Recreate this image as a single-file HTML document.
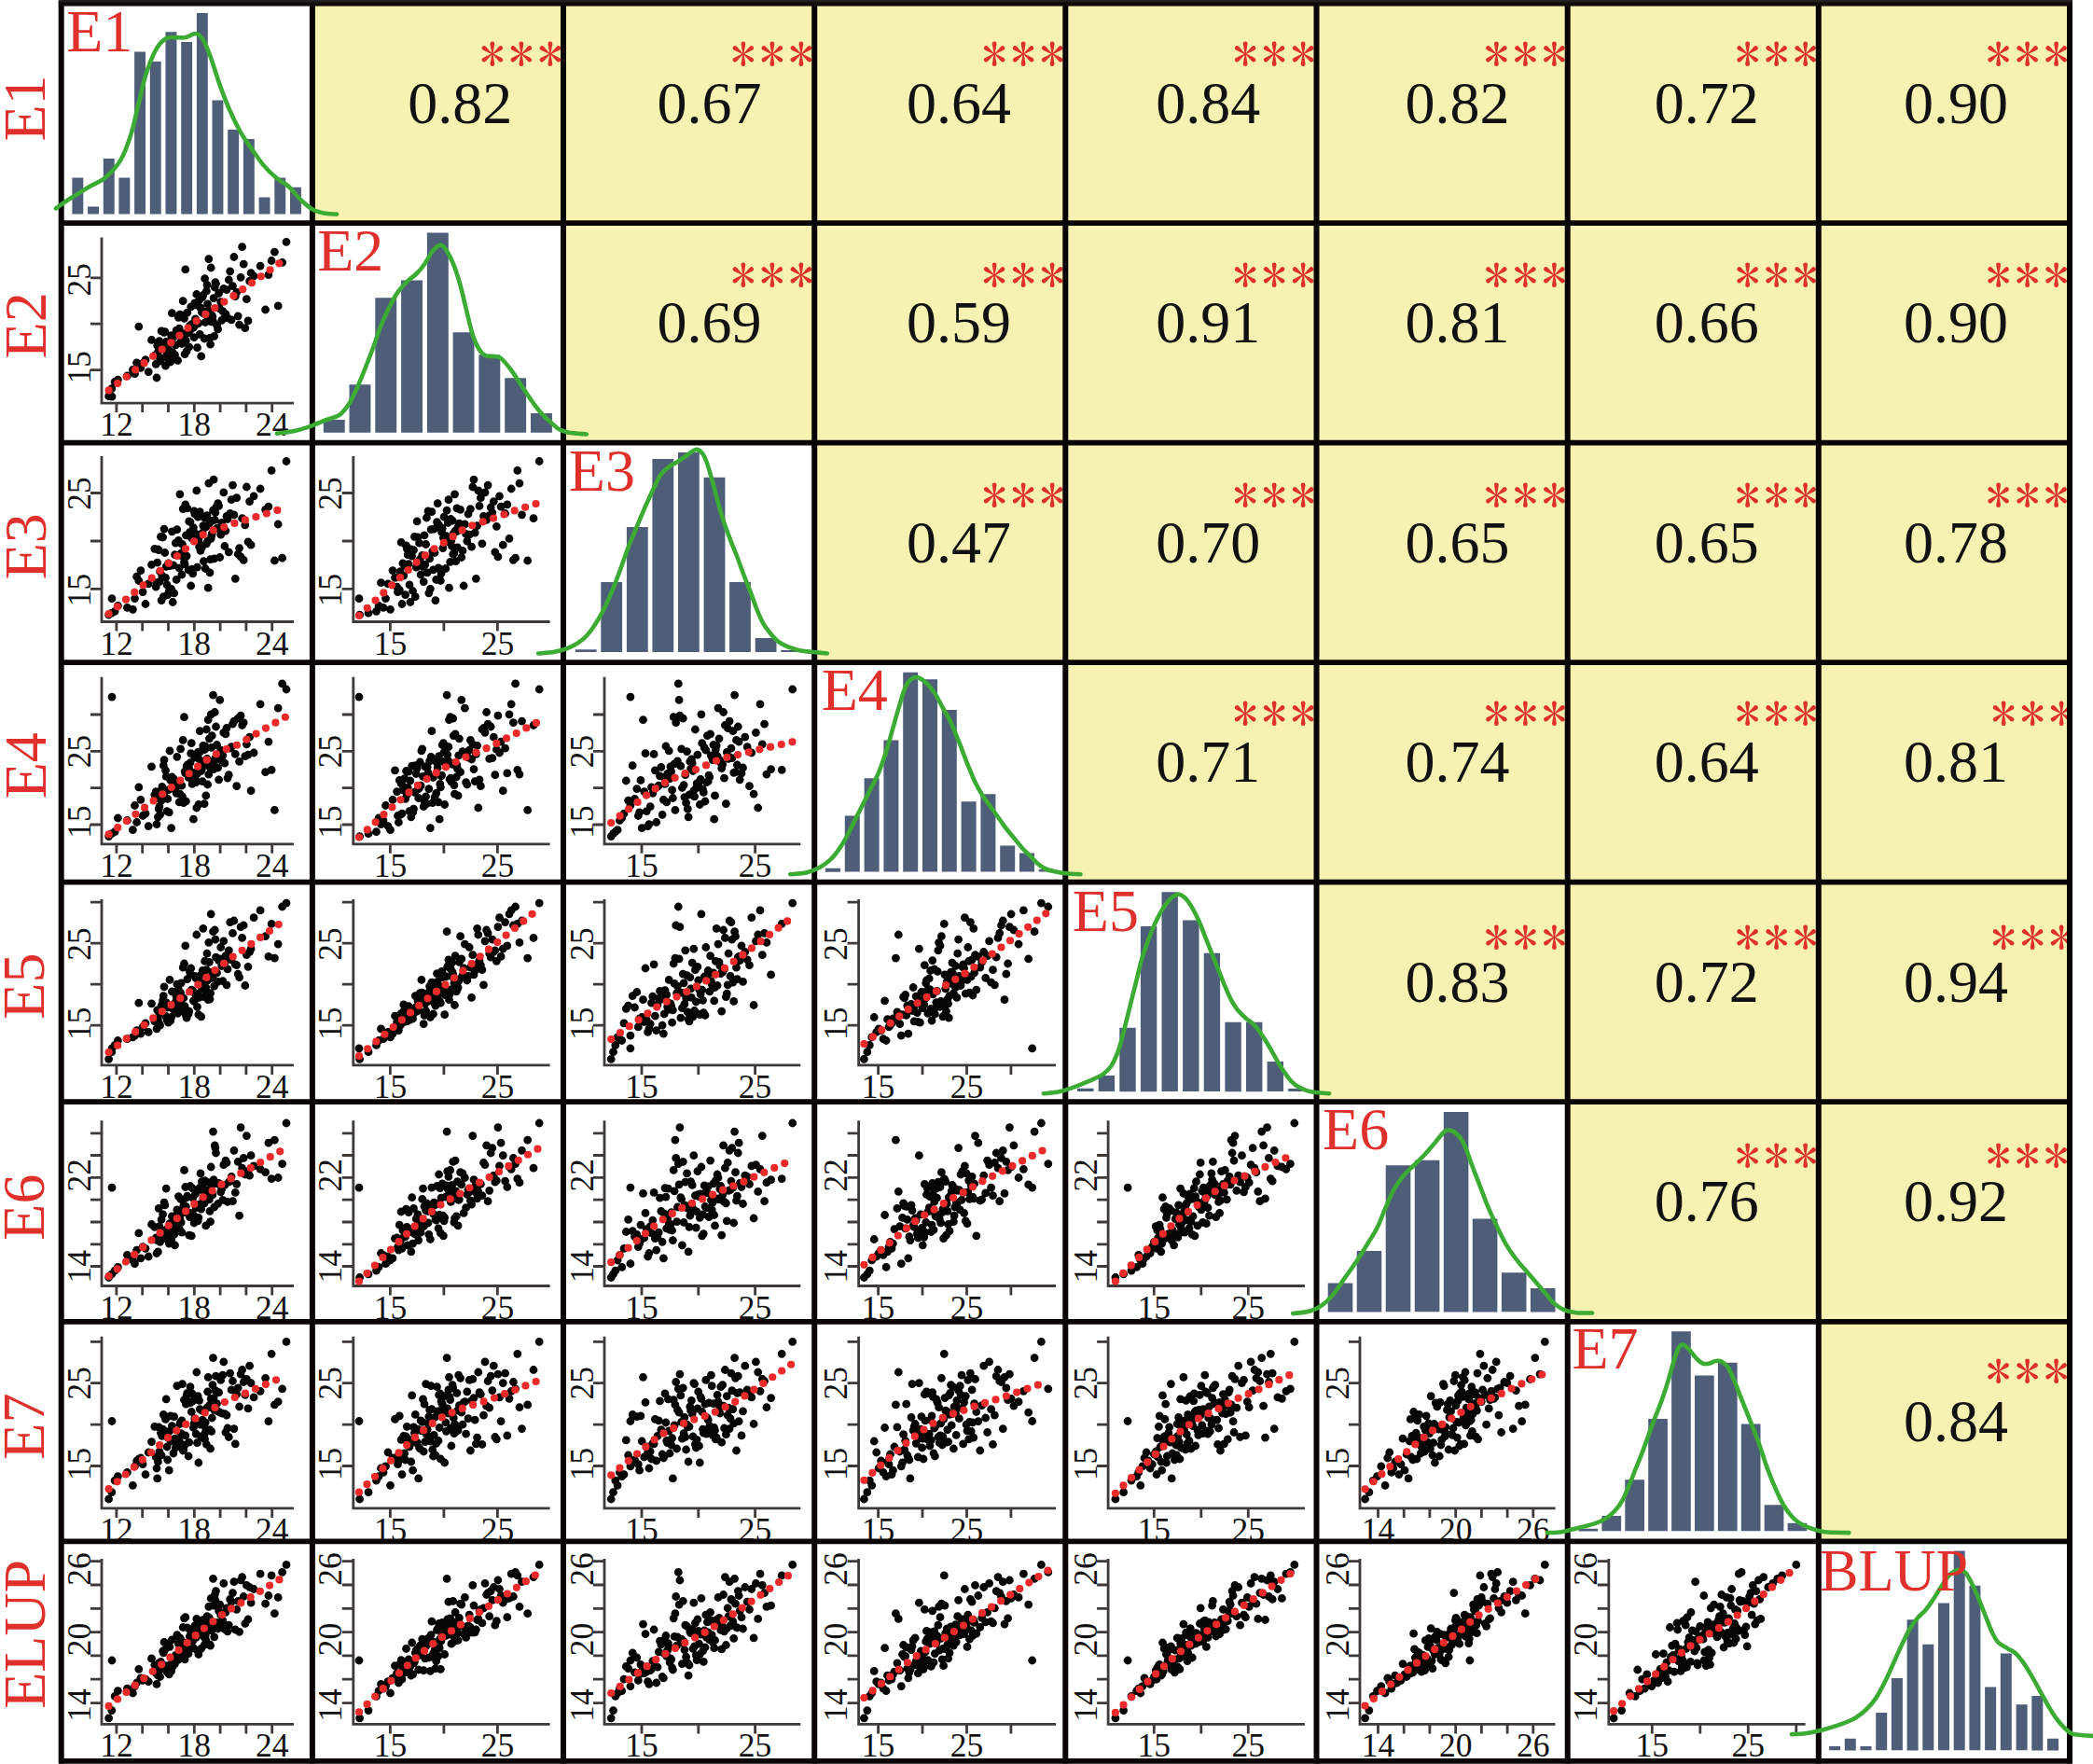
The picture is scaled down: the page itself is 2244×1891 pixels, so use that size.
<!DOCTYPE html>
<html><head><meta charset="utf-8"><title>Correlation matrix</title>
<style>html,body{margin:0;padding:0;background:#fff;overflow:hidden}svg{display:block}text{font-family:"Liberation Serif",serif}</style>
</head><body>
<div id="w">
<svg width="2244" height="1891" viewBox="0 0 2244 1891">
<rect x="0" y="0" width="2244" height="1891" fill="#fff"/>
<rect x="334.9" y="3.5" width="269.2" height="235.6" fill="#f7f1b2"/>
<rect x="604" y="3.5" width="269.2" height="235.6" fill="#f7f1b2"/>
<rect x="873.2" y="3.5" width="269.2" height="235.6" fill="#f7f1b2"/>
<rect x="1142.3" y="3.5" width="269.2" height="235.6" fill="#f7f1b2"/>
<rect x="1411.5" y="3.5" width="269.2" height="235.6" fill="#f7f1b2"/>
<rect x="1680.7" y="3.5" width="269.2" height="235.6" fill="#f7f1b2"/>
<rect x="1949.8" y="3.5" width="269.2" height="235.6" fill="#f7f1b2"/>
<rect x="604" y="239.1" width="269.2" height="235.6" fill="#f7f1b2"/>
<rect x="873.2" y="239.1" width="269.2" height="235.6" fill="#f7f1b2"/>
<rect x="1142.3" y="239.1" width="269.2" height="235.6" fill="#f7f1b2"/>
<rect x="1411.5" y="239.1" width="269.2" height="235.6" fill="#f7f1b2"/>
<rect x="1680.7" y="239.1" width="269.2" height="235.6" fill="#f7f1b2"/>
<rect x="1949.8" y="239.1" width="269.2" height="235.6" fill="#f7f1b2"/>
<rect x="873.2" y="474.6" width="269.2" height="235.6" fill="#f7f1b2"/>
<rect x="1142.3" y="474.6" width="269.2" height="235.6" fill="#f7f1b2"/>
<rect x="1411.5" y="474.6" width="269.2" height="235.6" fill="#f7f1b2"/>
<rect x="1680.7" y="474.6" width="269.2" height="235.6" fill="#f7f1b2"/>
<rect x="1949.8" y="474.6" width="269.2" height="235.6" fill="#f7f1b2"/>
<rect x="1142.3" y="710.2" width="269.2" height="235.5" fill="#f7f1b2"/>
<rect x="1411.5" y="710.2" width="269.2" height="235.5" fill="#f7f1b2"/>
<rect x="1680.7" y="710.2" width="269.2" height="235.5" fill="#f7f1b2"/>
<rect x="1949.8" y="710.2" width="269.2" height="235.5" fill="#f7f1b2"/>
<rect x="1411.5" y="945.7" width="269.2" height="235.5" fill="#f7f1b2"/>
<rect x="1680.7" y="945.7" width="269.2" height="235.5" fill="#f7f1b2"/>
<rect x="1949.8" y="945.7" width="269.2" height="235.5" fill="#f7f1b2"/>
<rect x="1680.7" y="1181.2" width="269.2" height="235.6" fill="#f7f1b2"/>
<rect x="1949.8" y="1181.2" width="269.2" height="235.6" fill="#f7f1b2"/>
<rect x="1949.8" y="1416.8" width="269.2" height="235.5" fill="#f7f1b2"/>
<text x="493.3" y="131.5" text-anchor="middle" font-size="64" fill="#111">0.82</text>
<text x="760.6" y="131.5" text-anchor="middle" font-size="64" fill="#111">0.67</text>
<text x="1027.9" y="131.5" text-anchor="middle" font-size="64" fill="#111">0.64</text>
<text x="1295.2" y="131.5" text-anchor="middle" font-size="64" fill="#111">0.84</text>
<text x="1562.5" y="131.5" text-anchor="middle" font-size="64" fill="#111">0.82</text>
<text x="1829.8" y="131.5" text-anchor="middle" font-size="64" fill="#111">0.72</text>
<text x="2097.1" y="131.5" text-anchor="middle" font-size="64" fill="#111">0.90</text>
<text x="760.6" y="367.1" text-anchor="middle" font-size="64" fill="#111">0.69</text>
<text x="1027.9" y="367.1" text-anchor="middle" font-size="64" fill="#111">0.59</text>
<text x="1295.2" y="367.1" text-anchor="middle" font-size="64" fill="#111">0.91</text>
<text x="1562.5" y="367.1" text-anchor="middle" font-size="64" fill="#111">0.81</text>
<text x="1829.8" y="367.1" text-anchor="middle" font-size="64" fill="#111">0.66</text>
<text x="2097.1" y="367.1" text-anchor="middle" font-size="64" fill="#111">0.90</text>
<text x="1027.9" y="602.6" text-anchor="middle" font-size="64" fill="#111">0.47</text>
<text x="1295.2" y="602.6" text-anchor="middle" font-size="64" fill="#111">0.70</text>
<text x="1562.5" y="602.6" text-anchor="middle" font-size="64" fill="#111">0.65</text>
<text x="1829.8" y="602.6" text-anchor="middle" font-size="64" fill="#111">0.65</text>
<text x="2097.1" y="602.6" text-anchor="middle" font-size="64" fill="#111">0.78</text>
<text x="1295.2" y="838.2" text-anchor="middle" font-size="64" fill="#111">0.71</text>
<text x="1562.5" y="838.2" text-anchor="middle" font-size="64" fill="#111">0.74</text>
<text x="1829.8" y="838.2" text-anchor="middle" font-size="64" fill="#111">0.64</text>
<text x="2097.1" y="838.2" text-anchor="middle" font-size="64" fill="#111">0.81</text>
<text x="1562.5" y="1073.7" text-anchor="middle" font-size="64" fill="#111">0.83</text>
<text x="1829.8" y="1073.7" text-anchor="middle" font-size="64" fill="#111">0.72</text>
<text x="2097.1" y="1073.7" text-anchor="middle" font-size="64" fill="#111">0.94</text>
<text x="1829.8" y="1309.2" text-anchor="middle" font-size="64" fill="#111">0.76</text>
<text x="2097.1" y="1309.2" text-anchor="middle" font-size="64" fill="#111">0.92</text>
<text x="2097.1" y="1544.8" text-anchor="middle" font-size="64" fill="#111">0.84</text>
<text x="514.4" y="77.8" font-size="53.6" letter-spacing="4.2" fill="#e0302c" style="font-family:IPAGothic,'Liberation Serif',serif">***</text>
<text x="783.5" y="77.8" font-size="53.6" letter-spacing="4.2" fill="#e0302c" style="font-family:IPAGothic,'Liberation Serif',serif">***</text>
<text x="1052.7" y="77.8" font-size="53.6" letter-spacing="4.2" fill="#e0302c" style="font-family:IPAGothic,'Liberation Serif',serif">***</text>
<text x="1321.8" y="77.8" font-size="53.6" letter-spacing="4.2" fill="#e0302c" style="font-family:IPAGothic,'Liberation Serif',serif">***</text>
<text x="1591" y="77.8" font-size="53.6" letter-spacing="4.2" fill="#e0302c" style="font-family:IPAGothic,'Liberation Serif',serif">***</text>
<text x="1860.2" y="77.8" font-size="53.6" letter-spacing="4.2" fill="#e0302c" style="font-family:IPAGothic,'Liberation Serif',serif">***</text>
<text x="2129.3" y="77.8" font-size="53.6" letter-spacing="4.2" fill="#e0302c" style="font-family:IPAGothic,'Liberation Serif',serif">***</text>
<text x="783.5" y="315.2" font-size="53.6" letter-spacing="4.2" fill="#e0302c" style="font-family:IPAGothic,'Liberation Serif',serif">***</text>
<text x="1052.7" y="315.2" font-size="53.6" letter-spacing="4.2" fill="#e0302c" style="font-family:IPAGothic,'Liberation Serif',serif">***</text>
<text x="1321.8" y="315.2" font-size="53.6" letter-spacing="4.2" fill="#e0302c" style="font-family:IPAGothic,'Liberation Serif',serif">***</text>
<text x="1591" y="315.2" font-size="53.6" letter-spacing="4.2" fill="#e0302c" style="font-family:IPAGothic,'Liberation Serif',serif">***</text>
<text x="1860.2" y="315.2" font-size="53.6" letter-spacing="4.2" fill="#e0302c" style="font-family:IPAGothic,'Liberation Serif',serif">***</text>
<text x="2129.3" y="315.2" font-size="53.6" letter-spacing="4.2" fill="#e0302c" style="font-family:IPAGothic,'Liberation Serif',serif">***</text>
<text x="1052.7" y="551.4" font-size="53.6" letter-spacing="4.2" fill="#e0302c" style="font-family:IPAGothic,'Liberation Serif',serif">***</text>
<text x="1321.8" y="551.4" font-size="53.6" letter-spacing="4.2" fill="#e0302c" style="font-family:IPAGothic,'Liberation Serif',serif">***</text>
<text x="1591" y="551.4" font-size="53.6" letter-spacing="4.2" fill="#e0302c" style="font-family:IPAGothic,'Liberation Serif',serif">***</text>
<text x="1860.2" y="551.4" font-size="53.6" letter-spacing="4.2" fill="#e0302c" style="font-family:IPAGothic,'Liberation Serif',serif">***</text>
<text x="2129.3" y="551.4" font-size="53.6" letter-spacing="4.2" fill="#e0302c" style="font-family:IPAGothic,'Liberation Serif',serif">***</text>
<text x="1321.8" y="785" font-size="53.6" letter-spacing="4.2" fill="#e0302c" style="font-family:IPAGothic,'Liberation Serif',serif">***</text>
<text x="1591" y="785" font-size="53.6" letter-spacing="4.2" fill="#e0302c" style="font-family:IPAGothic,'Liberation Serif',serif">***</text>
<text x="1860.2" y="785" font-size="53.6" letter-spacing="4.2" fill="#e0302c" style="font-family:IPAGothic,'Liberation Serif',serif">***</text>
<text x="2134.8" y="785" font-size="53.6" letter-spacing="4.2" fill="#e0302c" style="font-family:IPAGothic,'Liberation Serif',serif">***</text>
<text x="1591" y="1024.7" font-size="53.6" letter-spacing="4.2" fill="#e0302c" style="font-family:IPAGothic,'Liberation Serif',serif">***</text>
<text x="1860.2" y="1024.7" font-size="53.6" letter-spacing="4.2" fill="#e0302c" style="font-family:IPAGothic,'Liberation Serif',serif">***</text>
<text x="2134.8" y="1024.7" font-size="53.6" letter-spacing="4.2" fill="#e0302c" style="font-family:IPAGothic,'Liberation Serif',serif">***</text>
<text x="1860.2" y="1258.5" font-size="53.6" letter-spacing="4.2" fill="#e0302c" style="font-family:IPAGothic,'Liberation Serif',serif">***</text>
<text x="2129.3" y="1258.5" font-size="53.6" letter-spacing="4.2" fill="#e0302c" style="font-family:IPAGothic,'Liberation Serif',serif">***</text>
<text x="2129.3" y="1489.6" font-size="53.6" letter-spacing="4.2" fill="#e0302c" style="font-family:IPAGothic,'Liberation Serif',serif">***</text>
<path d="M77.4 190.5h11.9v39.1h-11.9zM94.1 221.5h11.9v8h-11.9zM110.8 169.9h11.9v59.7h-11.9zM127.4 190.5h11.9v39.1h-11.9zM144.1 55.4h11.9v174.2h-11.9zM160.8 66.1h11.9v163.5h-11.9zM177.5 34.2h11.9v195.3h-11.9zM194.2 44.9h11.9v184.6h-11.9zM210.9 13.9h11.9v215.7h-11.9zM227.5 107.6h11.9v122h-11.9zM244.2 139.1h11.9v90.4h-11.9zM260.9 149h11.9v80.5h-11.9zM277.6 211.4h11.9v18.2h-11.9zM294.3 190.5h11.9v39.1h-11.9zM311 200.7h11.9v28.9h-11.9z" fill="#4f5e78"/>
<path d="M346.8 450h22.9v13.8h-22.9zM374.5 412.2h22.9v51.6h-22.9zM402.3 319.3h22.9v144.5h-22.9zM430.1 300.4h22.9v163.4h-22.9zM457.9 249.6h22.9v214.1h-22.9zM485.6 356.3h22.9v107.5h-22.9zM513.4 380.3h22.9v83.4h-22.9zM541.2 405.3h22.9v58.5h-22.9zM569 443.1h22.9v20.6h-22.9z" fill="#4f5e78"/>
<path d="M616.8 696.2h22.8v2.9h-22.8zM644.3 623.9h22.8v75.2h-22.8zM671.9 565.1h22.8v134h-22.8zM699.4 492h22.8v207.1h-22.8zM727 485.1h22.8v214h-22.8zM754.6 511.8h22.8v187.3h-22.8zM782.1 623.9h22.8v75.2h-22.8zM809.7 684.1h22.8v15h-22.8zM837.3 697h22.8v2.1h-22.8z" fill="#4f5e78"/>
<path d="M885 930.7h16v4h-16zM905.8 874.4h16v60.2h-16zM926.6 834.3h16v100.3h-16zM947.4 793.6h16v141h-16zM968.2 720.8h16v213.8h-16zM989 728.2h16v206.4h-16zM1009.8 760.9h16v173.7h-16zM1030.6 859.3h16v75.3h-16zM1051.4 851.2h16v83.4h-16zM1072.2 906.6h16v28h-16zM1093 914.5h16v20.1h-16zM1113.8 932h16v2.6h-16z" fill="#4f5e78"/>
<path d="M1155 1166.7h17.4v3.4h-17.4zM1177.7 1152.9h17.4v17.2h-17.4zM1200.3 1101.7h17.4v68.5h-17.4zM1222.9 993h17.4v177.2h-17.4zM1245.5 956.3h17.4v213.8h-17.4zM1268.1 986.4h17.4v183.7h-17.4zM1290.7 1021.7h17.4v148.4h-17.4zM1313.4 1095.7h17.4v74.5h-17.4zM1336 1095.7h17.4v74.5h-17.4zM1358.6 1138.1h17.4v32h-17.4zM1381.2 1167h17.4v3.1h-17.4z" fill="#4f5e78"/>
<path d="M1423.7 1375.4h26.6v31h-26.6zM1454.7 1341h26.6v65.4h-26.6zM1485.7 1249.3h26.6v157h-26.6zM1516.8 1243.8h26.6v162.5h-26.6zM1547.8 1191.9h26.6v214.5h-26.6zM1578.8 1306.6h26.6v99.8h-26.6zM1609.9 1364.2h26.6v42.1h-26.6zM1640.9 1381.1h26.6v25.3h-26.6z" fill="#4f5e78"/>
<path d="M1692.5 1638.8h20.7v2.6h-20.7zM1717.4 1625h20.7v16.3h-20.7zM1742.3 1586.3h20.7v55h-20.7zM1767.2 1520.9h20.7v120.4h-20.7zM1792.1 1427.2h20.7v214.1h-20.7zM1817 1474.5h20.7v166.8h-20.7zM1841.9 1460.7h20.7v180.6h-20.7zM1866.8 1526.6h20.7v114.7h-20.7zM1891.7 1613.3h20.7v28h-20.7zM1916.6 1632.7h20.7v8.6h-20.7z" fill="#4f5e78"/>
<path d="M1961.1 1872h12v4.3h-12zM1977.8 1863.8h12v12.6h-12zM1994.5 1872h12v4.3h-12zM2011.2 1835.9h12v40.4h-12zM2027.9 1798.9h12v77.4h-12zM2044.6 1736.2h12v140.2h-12zM2061.3 1762.8h12v113.5h-12zM2078 1718.6h12v157.7h-12zM2094.7 1662.5h12v213.8h-12zM2111.4 1699.7h12v176.6h-12zM2128.1 1808.4h12v67.9h-12zM2144.8 1772.6h12v103.7h-12zM2161.6 1827.3h12v49h-12zM2178.3 1817.9h12v58.5h-12zM2195 1863.8h12v12.6h-12z" fill="#4f5e78"/>
<path d="M109 254.5V432.1H315" fill="none" stroke="#3e3a38" stroke-width="2.8"/>
<path d="M124.9 432.1v10M152.7 432.1v10M180.5 432.1v10M208.3 432.1v10M236.1 432.1v10M263.9 432.1v10M291.7 432.1v10M109 396.6h-12M109 347.2h-12M109 297.9h-12" stroke="#3e3a38" stroke-width="2.8"/>
<text x="124.9" y="467.1" text-anchor="middle" font-size="35.5" fill="#111">12</text>
<text x="208.3" y="467.1" text-anchor="middle" font-size="35.5" fill="#111">18</text>
<text x="291.7" y="467.1" text-anchor="middle" font-size="35.5" fill="#111">24</text>
<text transform="translate(96.5,393.8) rotate(-90)" text-anchor="middle" font-size="35.5" fill="#111">15</text>
<text transform="translate(96.5,299.8) rotate(-90)" text-anchor="middle" font-size="35.5" fill="#111">25</text>
<path d="M116.6 424.7h0M307 259.4h0M119.8 416.6h0M120 425.2h0M243 310.6h0M222.6 325.8h0M217.1 318.6h0M215.7 381.9h0M126.4 407.2h0M284.6 332h0M279.1 285.1h0M266 343.9h0M208.8 324.8h0M178.2 366.4h0M136.4 402.9h0M173.8 384.2h0M291.1 279.5h0M195.5 363.7h0M185.2 378h0M211.5 372.7h0M241.9 336.7h0M189.8 359h0M197.5 341.3h0M215 329.9h0M179 378.8h0M287.9 294.6h0M210.2 326.8h0M202.1 356.9h0M262.8 351.7h0M196.8 357.6h0M208.1 361.7h0M203.4 349.1h0M233.6 352.9h0M239.8 309.3h0M230.9 302.7h0M204.7 328.9h0M186.7 361h0M252.3 317.6h0M182.8 388h0M167.2 390.3h0M181.3 375.7h0M198.8 288.9h0M168 405h0M172.4 374.2h0M229.1 319.6h0M213.6 321.7h0M180.5 384.9h0M184.4 335.7h0M249.5 306.6h0M216.4 334.6h0M165.8 381.1h0M231.5 304h0M146.6 388.8h0M200.8 335.1h0M156 385.7h0M142.4 396.4h0M227.3 338.2h0M246.7 290.8h0M182 367.8h0M220.2 345.5h0M245.3 300h0M204 353.6h0M258.1 297.3h0M222 305.3h0M219.6 298.7h0M209.5 341.9h0M218.4 336.2h0M250.9 275.5h0M191.4 340.3h0M190.6 386.5h0M294.4 270.1h0M232.5 348.6h0M192.9 337.2h0M255.2 338.8h0M234.6 314.5h0M194.9 368.5h0M200.1 376.5h0M223.8 277.6h0M237.7 343.4h0M264.4 320.7h0M189.1 354.2h0M225 362.4h0M196.2 322.7h0M144.5 400.7h0M228.5 344.5h0M259.6 264.7h0M185.9 383.4h0M207.4 351.2h0M225.6 369.1h0M223.2 342.4h0M219.1 363h0M153.1 389.5h0M188.3 369.8h0M169.4 377.3h0M193.6 367.1h0M177.5 392.2h0M179.7 382.6h0M198.1 379.6h0M261.2 283.2h0M212.9 346.5h0M236.7 323.7h0M221.4 312h0M175.3 373.4h0M302.6 281.4h0M202.7 371.9h0M206 350.7h0M244 340.8h0M229.7 360.3h0M269.1 292.7h0M187.5 380.3h0M240.9 339.8h0M173.1 354.9h0M230.3 308h0M159.2 398.6h0M170.2 375h0M183.6 359.7h0M171.6 387.2h0M210.8 315.5h0M224.4 333h0M238.8 333.6h0M214.3 358.3h0M248.1 342.9h0M235.7 331h0M253.7 313.3h0M148.8 350.1h0M170.9 365.7h0M206.7 349.6h0M192.2 352.2h0M168.7 370.5h0M176.8 355.6h0M226.7 345h0M150.9 394.3h0M162.5 364.4h0M199.4 365.1h0M256.6 348.1h0M174.6 371.2h0M194.2 337.7h0M212.2 347h0M123.1 409.3h0M226.2 287h0M176 356.3h0M220.8 334.1h0M205.3 347.6h0M267.6 301.3h0M298.2 327.9h0M272.1 296h0M217.8 316.5h0M227.9 339.3h0" stroke="#050505" stroke-width="8.8" stroke-linecap="round"/>
<polyline points="116.6,418.4 142.4,398.6 156,388.1 168.7,378.2 173.1,375 177.5,371.7 182,368.3 186.7,364.6 192.2,359.9 196.2,356.4 200.1,352.9 204.7,348.9 208.8,345.5 212.9,342.4 217.1,339.4 220.8,336.7 225,333.7 228.5,331.3 232.5,328.7 238.8,324.6 245.3,320.5 253.7,314.8 262.8,308.4 279.1,296.8 307,276.9" fill="none" stroke="#ec2a2a" stroke-width="8.2" stroke-linecap="round" stroke-dasharray="0 12"/>
<path d="M109 489V666.5H315" fill="none" stroke="#3e3a38" stroke-width="2.8"/>
<path d="M124.9 666.5v10M152.7 666.5v10M180.5 666.5v10M208.3 666.5v10M236.1 666.5v10M263.9 666.5v10M291.7 666.5v10M109 631.4h-12M109 580h-12M109 528.5h-12" stroke="#3e3a38" stroke-width="2.8"/>
<text x="124.9" y="701.5" text-anchor="middle" font-size="35.5" fill="#111">12</text>
<text x="208.3" y="701.5" text-anchor="middle" font-size="35.5" fill="#111">18</text>
<text x="291.7" y="701.5" text-anchor="middle" font-size="35.5" fill="#111">24</text>
<text transform="translate(96.5,632.6) rotate(-90)" text-anchor="middle" font-size="35.5" fill="#111">15</text>
<text transform="translate(96.5,529.1) rotate(-90)" text-anchor="middle" font-size="35.5" fill="#111">25</text>
<path d="M116.6 659.2h0M307 494.5h0M119.8 657.2h0M120 641.7h0M243 553.4h0M222.6 580.1h0M217.1 571.2h0M215.7 584.9h0M126.4 649.4h0M284.6 546.3h0M279.1 524h0M266 580.8h0M208.8 551h0M178.2 607.4h0M136.4 651.4h0M173.8 617.1h0M291.1 504.3h0M195.5 583.5h0M185.2 645.5h0M211.5 608.1h0M241.9 569.1h0M189.8 567.7h0M197.5 602.4h0M215 590.4h0M179 626.9h0M287.9 543.2h0M210.2 572.5h0M202.1 610.9h0M262.8 562.8h0M196.8 591.1h0M208.1 547.9h0M203.4 570.5h0M233.6 539.6h0M239.8 527.9h0M230.9 549.5h0M204.7 628h0M186.7 635.8h0M252.3 620.3h0M182.8 632.4h0M167.2 629.1h0M181.3 633.5h0M198.8 540.9h0M168 624.7h0M172.4 575.3h0M229.1 514.1h0M213.6 586.2h0M180.5 603.9h0M184.4 569.8h0M249.5 520.1h0M216.4 586.9h0M165.8 588.3h0M231.5 544h0M146.6 618.2h0M200.8 544.8h0M156 647.5h0M142.4 653.3h0M227.3 571.9h0M246.7 550.3h0M182 606.7h0M220.2 609.5h0M245.3 591.8h0M204 559.6h0M258.1 596.8h0M222 552.6h0M219.6 564.3h0M209.5 578h0M218.4 601.7h0M250.9 551.8h0M191.4 579.4h0M190.6 581.4h0M294.4 601h0M232.5 566.4h0M192.9 529.8h0M255.2 594h0M234.6 542.4h0M194.9 616h0M200.1 596.1h0M223.8 518.1h0M237.7 560.4h0M264.4 522h0M189.1 621.4h0M225 613.8h0M196.2 545.6h0M144.5 641.6h0M228.5 547.1h0M259.6 555.7h0M185.9 606h0M207.4 565.7h0M225.6 599.6h0M223.2 630.2h0M219.1 555h0M153.1 634.6h0M188.3 582.1h0M169.4 589h0M193.6 595.4h0M177.5 619.3h0M179.7 637.7h0M198.1 604.6h0M261.2 600.3h0M212.9 578.7h0M236.7 573.2h0M221.4 582.8h0M175.3 639.7h0M302.6 598.2h0M202.7 558.9h0M206 610.2h0M244 556.5h0M229.7 598.9h0M269.1 584.2h0M187.5 594.7h0M240.9 585.5h0M173.1 643.6h0M230.3 557.3h0M159.2 625.8h0M170.2 589.7h0M183.6 631.3h0M171.6 612.7h0M210.8 525.9h0M224.4 561.2h0M238.8 568.4h0M214.3 548.7h0M248.1 535.7h0M235.7 597.5h0M253.7 533.7h0M148.8 622.5h0M170.9 623.6h0M206.7 614.9h0M192.2 608.8h0M168.7 603.2h0M176.8 592.5h0M226.7 574.6h0M150.9 611.6h0M162.5 605.3h0M199.4 573.9h0M256.6 587.6h0M174.6 576h0M194.2 593.2h0M212.2 554.2h0M123.1 655.3h0M226.2 577.3h0M176 567.1h0M220.8 565h0M205.3 576.6h0M267.6 537.6h0M298.2 562h0M272.1 531.8h0M217.8 563.6h0M227.9 558.1h0" stroke="#050505" stroke-width="8.8" stroke-linecap="round"/>
<polyline points="116.6,658 142.4,636.5 156,625.3 168.7,614.7 173.1,610.7 177.5,606.7 182,602.7 186.7,598.7 192.2,594.1 196.2,590.8 200.1,587.4 204.7,583.2 208.8,579.8 212.9,576.6 217.1,573.8 220.8,571.6 225,569.6 228.5,568.4 232.5,567.5 238.8,565.6 245.3,563.1 253.7,560.1 262.8,557.5 279.1,552.6 307,543.9" fill="none" stroke="#ec2a2a" stroke-width="8.2" stroke-linecap="round" stroke-dasharray="0 12"/>
<path d="M378.8 489V666.5H589.6" fill="none" stroke="#3e3a38" stroke-width="2.8"/>
<path d="M418.4 666.5v10M475.9 666.5v10M533.4 666.5v10M378.8 631.4h-12M378.8 580h-12M378.8 528.5h-12" stroke="#3e3a38" stroke-width="2.8"/>
<text x="418.4" y="701.5" text-anchor="middle" font-size="35.5" fill="#111">15</text>
<text x="533.4" y="701.5" text-anchor="middle" font-size="35.5" fill="#111">25</text>
<text transform="translate(366.3,632.6) rotate(-90)" text-anchor="middle" font-size="35.5" fill="#111">15</text>
<text transform="translate(366.3,529.1) rotate(-90)" text-anchor="middle" font-size="35.5" fill="#111">25</text>
<path d="M385.6 659.2h0M578.2 494.5h0M395 657.2h0M385 641.7h0M518.5 553.4h0M500.8 580.1h0M509.2 571.2h0M435.5 584.9h0M406 649.4h0M493.6 546.3h0M548.2 524h0M479.7 580.8h0M502 551h0M453.5 607.4h0M411 651.4h0M432.8 617.1h0M554.8 504.3h0M456.6 583.5h0M439.9 645.5h0M446.2 608.1h0M488.1 569.1h0M462.1 567.7h0M482.7 602.4h0M496 590.4h0M439 626.9h0M537.1 543.2h0M499.6 572.5h0M464.5 610.9h0M470.6 562.8h0M463.7 591.1h0M459 547.9h0M473.6 570.5h0M469.2 539.6h0M520 527.9h0M527.8 549.5h0M497.2 628h0M459.8 635.8h0M510.4 620.3h0M428.3 632.4h0M425.6 629.1h0M442.6 633.5h0M543.8 540.9h0M408.5 624.7h0M444.4 575.3h0M508 514.1h0M505.6 586.2h0M431.9 603.9h0M489.3 569.8h0M523.1 520.1h0M490.5 586.9h0M436.3 588.3h0M526.2 544h0M427.4 618.2h0M489.9 544.8h0M431 647.5h0M418.5 653.3h0M486.3 571.9h0M541.6 550.3h0M451.9 606.7h0M477.9 609.5h0M530.8 591.8h0M468.5 559.6h0M533.9 596.8h0M524.7 552.6h0M532.4 564.3h0M482.1 578h0M488.7 601.7h0M559.5 551.8h0M483.9 579.4h0M430.1 581.4h0M565.7 601h0M474.2 566.4h0M487.5 529.8h0M485.7 594h0M514 542.4h0M451.1 616h0M441.7 596.1h0M557 518.1h0M480.3 560.4h0M506.8 522h0M467.7 621.4h0M458.2 613.8h0M504.4 545.6h0M413.5 641.6h0M479.1 547.1h0M572 555.7h0M433.7 606h0M471.2 565.7h0M450.3 599.6h0M481.5 630.2h0M457.4 555h0M426.5 634.6h0M449.5 582.1h0M440.8 589h0M452.7 595.4h0M423.5 619.3h0M434.6 637.7h0M438.1 604.6h0M550.4 600.3h0M476.7 578.7h0M503.2 573.2h0M516.9 582.8h0M445.3 639.7h0M552.6 598.2h0M447.1 558.9h0M471.8 610.2h0M483.3 556.5h0M460.6 598.9h0M539.3 584.2h0M437.2 594.7h0M484.5 585.5h0M466.9 643.6h0M521.6 557.3h0M416 625.8h0M443.5 589.7h0M461.4 631.3h0M429.2 612.7h0M512.8 525.9h0M492.4 561.2h0M491.7 568.4h0M462.9 548.7h0M480.9 535.7h0M494.8 597.5h0M515.4 533.7h0M472.4 622.5h0M454.2 623.6h0M473 614.9h0M470 608.8h0M448.7 603.2h0M466.1 592.5h0M478.5 574.6h0M421 611.6h0M455.8 605.3h0M455 573.9h0M474.8 587.6h0M447.9 576h0M486.9 593.2h0M476.1 554.2h0M403.5 655.3h0M546 577.3h0M465.3 567.1h0M491.1 565h0M475.4 576.6h0M529.3 537.6h0M498.4 562h0M535.5 531.8h0M511.6 563.6h0M485.1 558.1h0" stroke="#050505" stroke-width="8.8" stroke-linecap="round"/>
<polyline points="385,660 411,635.7 425.6,622.3 431,617.4 436.3,612.4 441.7,607.3 447.1,602.4 451.9,598.4 457.4,594.1 462.1,590.6 466.9,587.4 471.2,584.6 474.8,582.4 479.1,579.7 482.7,577.2 486.3,574.7 490.5,571.6 496,568 503.2,564.4 510.4,561.8 518.5,559.1 527.8,556.1 537.1,552.7 550.4,547.9 578.2,538.9" fill="none" stroke="#ec2a2a" stroke-width="8.2" stroke-linecap="round" stroke-dasharray="0 12"/>
<path d="M109 725.8V904.8H315" fill="none" stroke="#3e3a38" stroke-width="2.8"/>
<path d="M124.9 904.8v10M152.7 904.8v10M180.5 904.8v10M208.3 904.8v10M236.1 904.8v10M263.9 904.8v10M291.7 904.8v10M109 884h-12M109 844.7h-12M109 805.3h-12M109 766h-12" stroke="#3e3a38" stroke-width="2.8"/>
<text x="124.9" y="939.8" text-anchor="middle" font-size="35.5" fill="#111">12</text>
<text x="208.3" y="939.8" text-anchor="middle" font-size="35.5" fill="#111">18</text>
<text x="291.7" y="939.8" text-anchor="middle" font-size="35.5" fill="#111">24</text>
<text transform="translate(96.5,880.9) rotate(-90)" text-anchor="middle" font-size="35.5" fill="#111">15</text>
<text transform="translate(96.5,805.4) rotate(-90)" text-anchor="middle" font-size="35.5" fill="#111">25</text>
<path d="M116.6 896.6h0M307 739h0M119.8 893.7h0M120 747.1h0M243 780.5h0M222.6 841h0M217.1 837.6h0M215.7 826.5h0M126.4 877h0M284.6 827.7h0M279.1 754.8h0M266 809.1h0M208.8 812h0M178.2 832.4h0M136.4 879.5h0M173.8 843.3h0M291.1 825.3h0M195.5 853.8h0M185.2 837h0M211.5 829.5h0M241.9 786.9h0M189.8 811.3h0M197.5 768.7h0M215 805.6h0M179 869.6h0M287.9 795.1h0M210.2 838.7h0M202.1 833.5h0M262.8 810.6h0M196.8 860.7h0M208.1 828.3h0M203.4 831.2h0M233.6 823h0M239.8 785.3h0M230.9 812.7h0M204.7 807.7h0M186.7 845.6h0M252.3 808.4h0M182.8 836.4h0M167.2 848.6h0M181.3 870.9h0M198.8 828.9h0M168 883.6h0M172.4 849.4h0M229.1 824.7h0M213.6 814h0M180.5 846.8h0M184.4 833h0M249.5 776.1h0M216.4 824.2h0M165.8 852h0M231.5 779h0M146.6 881.5h0M200.8 820h0M156 872.1h0M142.4 889.7h0M227.3 788.6h0M246.7 802.1h0M182 804.9h0M220.2 800h0M245.3 830.7h0M204 817.6h0M258.1 767.2h0M222 813.4h0M219.6 803.5h0M209.5 835.3h0M218.4 818.8h0M250.9 773.1h0M191.4 838.1h0M190.6 839.9h0M294.4 868.4h0M232.5 798.5h0M192.9 851.2h0M255.2 770.2h0M234.6 835.8h0M194.9 842.2h0M200.1 821.2h0M223.8 830.1h0M237.7 815.2h0M264.4 797.8h0M189.1 850.3h0M225 822.4h0M196.2 793.4h0M144.5 863.5h0M228.5 745.1h0M259.6 777.5h0M185.9 834.7h0M207.4 878.2h0M225.6 817h0M223.2 771.7h0M219.1 861.6h0M153.1 874.5h0M188.3 845h0M169.4 875.8h0M193.6 802.8h0M177.5 825.9h0M179.7 856.4h0M198.1 827.1h0M261.2 774.6h0M212.9 862.5h0M236.7 804.2h0M221.4 782h0M175.3 820.6h0M302.6 732.9h0M202.7 823.6h0M206 840.4h0M244 834.1h0M229.7 815.8h0M269.1 847.7h0M187.5 844.5h0M240.9 818.2h0M173.1 858.1h0M230.3 763.5h0M159.2 885.6h0M170.2 867.2h0M183.6 887.6h0M171.6 873.3h0M210.8 866h0M224.4 791.8h0M238.8 809.8h0M214.3 783.7h0M248.1 800.7h0M235.7 750.4h0M253.7 842.7h0M148.8 843.9h0M170.9 864.7h0M206.7 831.8h0M192.2 859.9h0M168.7 855.5h0M176.8 854.7h0M226.7 801.4h0M150.9 857.3h0M162.5 821.8h0M199.4 859h0M256.6 816.4h0M174.6 846.2h0M194.2 841.6h0M212.2 806.3h0M123.1 891.7h0M226.2 765.8h0M176 814.6h0M220.8 852.9h0M205.3 796.7h0M267.6 790.2h0M298.2 759.1h0M272.1 807h0M217.8 799.3h0M227.9 819.4h0" stroke="#050505" stroke-width="8.8" stroke-linecap="round"/>
<polyline points="116.6,894.4 142.4,875.1 156,864.9 168.7,855.3 173.1,852.1 177.5,848.8 182,845.4 186.7,841.8 192.2,837.5 196.2,834.4 200.1,831.3 204.7,827.7 208.8,824.4 212.9,821 217.1,817.9 220.8,815.3 225,812.5 228.5,810.2 232.5,807.9 238.8,804.8 245.3,802 253.7,798.9 262.8,793.7 279.1,783.9 307,768.1" fill="none" stroke="#ec2a2a" stroke-width="8.2" stroke-linecap="round" stroke-dasharray="0 12"/>
<path d="M378.8 725.8V904.8H589.6" fill="none" stroke="#3e3a38" stroke-width="2.8"/>
<path d="M418.4 904.8v10M475.9 904.8v10M533.4 904.8v10M378.8 884h-12M378.8 844.7h-12M378.8 805.3h-12M378.8 766h-12" stroke="#3e3a38" stroke-width="2.8"/>
<text x="418.4" y="939.8" text-anchor="middle" font-size="35.5" fill="#111">15</text>
<text x="533.4" y="939.8" text-anchor="middle" font-size="35.5" fill="#111">25</text>
<text transform="translate(366.3,880.9) rotate(-90)" text-anchor="middle" font-size="35.5" fill="#111">15</text>
<text transform="translate(366.3,805.4) rotate(-90)" text-anchor="middle" font-size="35.5" fill="#111">25</text>
<path d="M385.6 896.6h0M578.2 739h0M395 893.7h0M385 747.1h0M518.5 780.5h0M500.8 841h0M509.2 837.6h0M435.5 826.5h0M406 877h0M493.6 827.7h0M548.2 754.8h0M479.7 809.1h0M502 812h0M453.5 832.4h0M411 879.5h0M432.8 843.3h0M554.8 825.3h0M456.6 853.8h0M439.9 837h0M446.2 829.5h0M488.1 786.9h0M462.1 811.3h0M482.7 768.7h0M496 805.6h0M439 869.6h0M537.1 795.1h0M499.6 838.7h0M464.5 833.5h0M470.6 810.6h0M463.7 860.7h0M459 828.3h0M473.6 831.2h0M469.2 823h0M520 785.3h0M527.8 812.7h0M497.2 807.7h0M459.8 845.6h0M510.4 808.4h0M428.3 836.4h0M425.6 848.6h0M442.6 870.9h0M543.8 828.9h0M408.5 883.6h0M444.4 849.4h0M508 824.7h0M505.6 814h0M431.9 846.8h0M489.3 833h0M523.1 776.1h0M490.5 824.2h0M436.3 852h0M526.2 779h0M427.4 881.5h0M489.9 820h0M431 872.1h0M418.5 889.7h0M486.3 788.6h0M541.6 802.1h0M451.9 804.9h0M477.9 800h0M530.8 830.7h0M468.5 817.6h0M533.9 767.2h0M524.7 813.4h0M532.4 803.5h0M482.1 835.3h0M488.7 818.8h0M559.5 773.1h0M483.9 838.1h0M430.1 839.9h0M565.7 868.4h0M474.2 798.5h0M487.5 851.2h0M485.7 770.2h0M514 835.8h0M451.1 842.2h0M441.7 821.2h0M557 830.1h0M480.3 815.2h0M506.8 797.8h0M467.7 850.3h0M458.2 822.4h0M504.4 793.4h0M413.5 863.5h0M479.1 745.1h0M572 777.5h0M433.7 834.7h0M471.2 878.2h0M450.3 817h0M481.5 771.7h0M457.4 861.6h0M426.5 874.5h0M449.5 845h0M440.8 875.8h0M452.7 802.8h0M423.5 825.9h0M434.6 856.4h0M438.1 827.1h0M550.4 774.6h0M476.7 862.5h0M503.2 804.2h0M516.9 782h0M445.3 820.6h0M552.6 732.9h0M447.1 823.6h0M471.8 840.4h0M483.3 834.1h0M460.6 815.8h0M539.3 847.7h0M437.2 844.5h0M484.5 818.2h0M466.9 858.1h0M521.6 763.5h0M416 885.6h0M443.5 867.2h0M461.4 887.6h0M429.2 873.3h0M512.8 866h0M492.4 791.8h0M491.7 809.8h0M462.9 783.7h0M480.9 800.7h0M494.8 750.4h0M515.4 842.7h0M472.4 843.9h0M454.2 864.7h0M473 831.8h0M470 859.9h0M448.7 855.5h0M466.1 854.7h0M478.5 801.4h0M421 857.3h0M455.8 821.8h0M455 859h0M474.8 816.4h0M447.9 846.2h0M486.9 841.6h0M476.1 806.3h0M403.5 891.7h0M546 765.8h0M465.3 814.6h0M491.1 852.9h0M475.4 796.7h0M529.3 790.2h0M498.4 759.1h0M535.5 807h0M511.6 799.3h0M485.1 819.4h0" stroke="#050505" stroke-width="8.8" stroke-linecap="round"/>
<polyline points="385,897.6 411,873.6 425.6,860.7 431,856 436.3,851.3 441.7,846.8 447.1,842.5 451.9,839 457.4,835.2 462.1,832 466.9,828.9 471.2,826.1 474.8,824 479.1,821.7 482.7,819.9 486.3,818.1 490.5,815.9 496,813.1 503.2,809.9 510.4,806.9 518.5,803.6 527.8,799.3 537.1,794.5 550.4,787.7 578.2,773.2" fill="none" stroke="#ec2a2a" stroke-width="8.2" stroke-linecap="round" stroke-dasharray="0 12"/>
<path d="M648 725.8V904.8H858.3" fill="none" stroke="#3e3a38" stroke-width="2.8"/>
<path d="M688 904.8v10M748.8 904.8v10M809.6 904.8v10M648 884h-12M648 844.7h-12M648 805.3h-12M648 766h-12" stroke="#3e3a38" stroke-width="2.8"/>
<text x="688" y="939.8" text-anchor="middle" font-size="35.5" fill="#111">15</text>
<text x="809.6" y="939.8" text-anchor="middle" font-size="35.5" fill="#111">25</text>
<text transform="translate(635.5,880.9) rotate(-90)" text-anchor="middle" font-size="35.5" fill="#111">15</text>
<text transform="translate(635.5,805.4) rotate(-90)" text-anchor="middle" font-size="35.5" fill="#111">25</text>
<path d="M655.2 896.6h0M849.7 739h0M657.5 893.7h0M675.9 747.1h0M780.2 780.5h0M748.7 841h0M759.2 837.6h0M743 826.5h0M666.7 877h0M788.5 827.7h0M815 754.8h0M747.9 809.1h0M783 812h0M716.4 832.4h0M664.4 879.5h0M705 843.3h0M838.2 825.3h0M744.6 853.8h0M671.3 837h0M715.6 829.5h0M761.6 786.9h0M763.2 811.3h0M722.2 768.7h0M736.5 805.6h0M693.3 869.6h0M792.2 795.1h0M757.6 838.7h0M712.2 833.5h0M769.1 810.6h0M735.6 860.7h0M786.7 828.3h0M760 831.2h0M796.5 823h0M810.4 785.3h0M784.8 812.7h0M692 807.7h0M682.8 845.6h0M701.1 808.4h0M686.9 836.4h0M690.7 848.6h0M685.6 870.9h0M795 828.9h0M695.9 883.6h0M754.3 849.4h0M826.6 824.7h0M741.4 814h0M720.6 846.8h0M760.8 833h0M819.6 776.1h0M740.6 824.2h0M739 852h0M791.3 779h0M703.7 881.5h0M790.4 820h0M669 872.1h0M662.1 889.7h0M758.4 788.6h0M783.9 802.1h0M717.2 804.9h0M713.9 800h0M734.8 830.7h0M772.8 817.6h0M728.9 767.2h0M781.1 813.4h0M767.3 803.5h0M751.1 835.3h0M723.1 818.8h0M782.1 773.1h0M749.5 838.1h0M747.1 839.9h0M723.9 868.4h0M764.9 798.5h0M808.1 851.2h0M732.3 770.2h0M793.2 835.8h0M706.3 842.2h0M729.8 821.2h0M821.9 830.1h0M771.9 815.2h0M817.3 797.8h0M699.8 850.3h0M708.8 822.4h0M789.5 793.4h0M675.9 863.5h0M787.6 745.1h0M777.4 777.5h0M718.1 834.7h0M765.7 878.2h0M725.6 817h0M689.5 771.7h0M778.4 861.6h0M684.3 874.5h0M746.3 845h0M738.1 875.8h0M730.6 802.8h0M702.4 825.9h0M680.5 856.4h0M719.7 827.1h0M724.7 774.6h0M750.3 862.5h0M756.8 804.2h0M745.4 782h0M678.2 820.6h0M727.3 732.9h0M773.7 823.6h0M713 840.4h0M776.5 834.1h0M726.4 815.8h0M743.8 847.7h0M731.4 844.5h0M742.2 818.2h0M673.6 858.1h0M775.6 763.5h0M694.6 885.6h0M737.3 867.2h0M688.2 887.6h0M710.1 873.3h0M812.7 866h0M771 791.8h0M762.4 809.8h0M785.8 783.7h0M801.2 800.7h0M728.1 750.4h0M803.5 842.7h0M698.5 843.9h0M697.2 864.7h0M707.5 831.8h0M714.7 859.9h0M721.4 855.5h0M733.9 854.7h0M755.2 801.4h0M711.4 857.3h0M718.9 821.8h0M756 859h0M739.8 816.4h0M753.5 846.2h0M733.1 841.6h0M779.3 806.3h0M659.8 891.7h0M751.9 765.8h0M764.1 814.6h0M766.5 852.9h0M752.7 796.7h0M798.8 790.2h0M770 759.1h0M805.8 807h0M768.2 799.3h0M774.7 819.4h0" stroke="#050505" stroke-width="8.8" stroke-linecap="round"/>
<polyline points="655.2,882.1 669,871.2 680.5,862.3 689.5,855.4 697.2,849.4 705,843.7 712.2,839.4 717.2,837 723.1,834.1 728.1,831.8 733.1,829.6 738.1,827.7 743,826 747.9,824.3 752.7,822.5 757.6,820.2 763.2,817.6 768.2,815.5 773.7,813.6 779.3,811.9 784.8,810.4 790.4,809.2 798.8,807.3 812.7,803.7 849.7,795.3" fill="none" stroke="#ec2a2a" stroke-width="8.2" stroke-linecap="round" stroke-dasharray="0 12"/>
<path d="M109 963.9V1141.9H315" fill="none" stroke="#3e3a38" stroke-width="2.8"/>
<path d="M124.9 1141.9v10M152.7 1141.9v10M180.5 1141.9v10M208.3 1141.9v10M236.1 1141.9v10M263.9 1141.9v10M291.7 1141.9v10M109 1099.2h-12M109 1055.2h-12M109 1011.2h-12M109 967.2h-12" stroke="#3e3a38" stroke-width="2.8"/>
<text x="124.9" y="1176.9" text-anchor="middle" font-size="35.5" fill="#111">12</text>
<text x="208.3" y="1176.9" text-anchor="middle" font-size="35.5" fill="#111">18</text>
<text x="291.7" y="1176.9" text-anchor="middle" font-size="35.5" fill="#111">24</text>
<text transform="translate(96.5,1097.2) rotate(-90)" text-anchor="middle" font-size="35.5" fill="#111">15</text>
<text transform="translate(96.5,1012.1) rotate(-90)" text-anchor="middle" font-size="35.5" fill="#111">25</text>
<path d="M116.6 1135.3h0M307 968.1h0M119.8 1127.7h0M120 1123.8h0M243 1055.8h0M222.6 1051h0M217.1 1040.5h0M215.7 1089.8h0M126.4 1115.5h0M284.6 1003.7h0M279.1 975.9h0M266 1036.3h0M208.8 1046.3h0M178.2 1074.6h0M136.4 1113.7h0M173.8 1076.9h0M291.1 990.3h0M195.5 1083.5h0M185.2 1081.4h0M211.5 1079.3h0M241.9 1024.6h0M189.8 1055.1h0M197.5 1033h0M215 1045.6h0M179 1093.4h0M287.9 1025.4h0M210.2 1049h0M202.1 1087h0M262.8 1056.5h0M196.8 1069.9h0M208.1 1073.4h0M203.4 1041.4h0M233.6 1052.4h0M239.8 1008.8h0M230.9 1007.1h0M204.7 1038h0M186.7 1063.5h0M252.3 1033.8h0M182.8 1094.1h0M167.2 1095.5h0M181.3 1092h0M198.8 1013.8h0M168 1102.8h0M172.4 1085.6h0M229.1 1044.9h0M213.6 1069.3h0M180.5 1096.2h0M184.4 1062.9h0M249.5 1000.4h0M216.4 1059.9h0M165.8 1094.8h0M231.5 1026.2h0M146.6 1104.6h0M200.8 1049.7h0M156 1096.9h0M142.4 1111.9h0M227.3 1048.3h0M246.7 988.6h0M182 1050.4h0M220.2 1067h0M245.3 1018.8h0M204 1043.6h0M258.1 993.7h0M222 1022.2h0M219.6 1030.4h0M209.5 1065.8h0M218.4 1054.4h0M250.9 987h0M191.4 1060.6h0M190.6 1086.3h0M294.4 1027.1h0M232.5 1042.9h0M192.9 1077.5h0M255.2 1044.2h0M234.6 1029.6h0M194.9 1070.5h0M200.1 1091.2h0M223.8 1010.4h0M237.7 1035.5h0M264.4 1023.7h0M189.1 1068.2h0M225 1071.1h0M196.2 1037.2h0M144.5 1110.1h0M228.5 998.7h0M259.6 1005.4h0M185.9 1082.1h0M207.4 1072.8h0M225.6 1064.7h0M223.2 1071.7h0M219.1 1068.7h0M153.1 1100.9h0M188.3 1074h0M169.4 1092.7h0M193.6 1064.1h0M177.5 1089.1h0M179.7 1080h0M198.1 1078.7h0M261.2 992h0M212.9 1087.7h0M236.7 1015.5h0M221.4 1039.7h0M175.3 1067.6h0M302.6 972h0M202.7 1084.2h0M206 1061.7h0M244 1038.9h0M229.7 1057.2h0M269.1 1017.1h0M187.5 1080.7h0M240.9 1032.1h0M173.1 1078.1h0M230.3 997h0M159.2 1106.4h0M170.2 1084.9h0M183.6 1090.5h0M171.6 1099.1h0M210.8 1002h0M224.4 1031.3h0M238.8 1051.7h0M214.3 1053.1h0M248.1 1028.8h0M235.7 1027.9h0M253.7 1034.6h0M148.8 1075.2h0M170.9 1097.6h0M206.7 1062.3h0M192.2 1066.4h0M168.7 1082.8h0M176.8 1076.3h0M226.7 1047h0M150.9 1108.2h0M162.5 1075.8h0M199.4 1088.4h0M256.6 1047.6h0M174.6 1072.3h0M194.2 1053.8h0M212.2 1065.2h0M123.1 1120.4h0M226.2 979.8h0M176 1057.8h0M220.8 1058.5h0M205.3 1061.2h0M267.6 1020.5h0M298.2 1012.1h0M272.1 983.7h0M217.8 995.3h0M227.9 1042.2h0" stroke="#050505" stroke-width="8.8" stroke-linecap="round"/>
<polyline points="116.6,1128 142.4,1108.2 156,1097.8 168.7,1088 173.1,1084.8 177.5,1081.5 182,1078.2 186.7,1074.8 192.2,1070.9 196.2,1068.1 200.1,1065.4 204.7,1062 208.8,1058.7 212.9,1055.2 217.1,1051.6 220.8,1048.3 225,1044.7 228.5,1041.7 232.5,1038.6 238.8,1033.7 245.3,1028.6 253.7,1022.9 262.8,1016.6 279.1,1004.9 307,985.3" fill="none" stroke="#ec2a2a" stroke-width="8.2" stroke-linecap="round" stroke-dasharray="0 12"/>
<path d="M378.8 963.9V1141.9H589.6" fill="none" stroke="#3e3a38" stroke-width="2.8"/>
<path d="M418.4 1141.9v10M475.9 1141.9v10M533.4 1141.9v10M378.8 1099.2h-12M378.8 1055.2h-12M378.8 1011.2h-12M378.8 967.2h-12" stroke="#3e3a38" stroke-width="2.8"/>
<text x="418.4" y="1176.9" text-anchor="middle" font-size="35.5" fill="#111">15</text>
<text x="533.4" y="1176.9" text-anchor="middle" font-size="35.5" fill="#111">25</text>
<text transform="translate(366.3,1097.2) rotate(-90)" text-anchor="middle" font-size="35.5" fill="#111">15</text>
<text transform="translate(366.3,1012.1) rotate(-90)" text-anchor="middle" font-size="35.5" fill="#111">25</text>
<path d="M385.6 1135.3h0M578.2 968.1h0M395 1127.7h0M385 1123.8h0M518.5 1055.8h0M500.8 1051h0M509.2 1040.5h0M435.5 1089.8h0M406 1115.5h0M493.6 1003.7h0M548.2 975.9h0M479.7 1036.3h0M502 1046.3h0M453.5 1074.6h0M411 1113.7h0M432.8 1076.9h0M554.8 990.3h0M456.6 1083.5h0M439.9 1081.4h0M446.2 1079.3h0M488.1 1024.6h0M462.1 1055.1h0M482.7 1033h0M496 1045.6h0M439 1093.4h0M537.1 1025.4h0M499.6 1049h0M464.5 1087h0M470.6 1056.5h0M463.7 1069.9h0M459 1073.4h0M473.6 1041.4h0M469.2 1052.4h0M520 1008.8h0M527.8 1007.1h0M497.2 1038h0M459.8 1063.5h0M510.4 1033.8h0M428.3 1094.1h0M425.6 1095.5h0M442.6 1092h0M543.8 1013.8h0M408.5 1102.8h0M444.4 1085.6h0M508 1044.9h0M505.6 1069.3h0M431.9 1096.2h0M489.3 1062.9h0M523.1 1000.4h0M490.5 1059.9h0M436.3 1094.8h0M526.2 1026.2h0M427.4 1104.6h0M489.9 1049.7h0M431 1096.9h0M418.5 1111.9h0M486.3 1048.3h0M541.6 988.6h0M451.9 1050.4h0M477.9 1067h0M530.8 1018.8h0M468.5 1043.6h0M533.9 993.7h0M524.7 1022.2h0M532.4 1030.4h0M482.1 1065.8h0M488.7 1054.4h0M559.5 987h0M483.9 1060.6h0M430.1 1086.3h0M565.7 1027.1h0M474.2 1042.9h0M487.5 1077.5h0M485.7 1044.2h0M514 1029.6h0M451.1 1070.5h0M441.7 1091.2h0M557 1010.4h0M480.3 1035.5h0M506.8 1023.7h0M467.7 1068.2h0M458.2 1071.1h0M504.4 1037.2h0M413.5 1110.1h0M479.1 998.7h0M572 1005.4h0M433.7 1082.1h0M471.2 1072.8h0M450.3 1064.7h0M481.5 1071.7h0M457.4 1068.7h0M426.5 1100.9h0M449.5 1074h0M440.8 1092.7h0M452.7 1064.1h0M423.5 1089.1h0M434.6 1080h0M438.1 1078.7h0M550.4 992h0M476.7 1087.7h0M503.2 1015.5h0M516.9 1039.7h0M445.3 1067.6h0M552.6 972h0M447.1 1084.2h0M471.8 1061.7h0M483.3 1038.9h0M460.6 1057.2h0M539.3 1017.1h0M437.2 1080.7h0M484.5 1032.1h0M466.9 1078.1h0M521.6 997h0M416 1106.4h0M443.5 1084.9h0M461.4 1090.5h0M429.2 1099.1h0M512.8 1002h0M492.4 1031.3h0M491.7 1051.7h0M462.9 1053.1h0M480.9 1028.8h0M494.8 1027.9h0M515.4 1034.6h0M472.4 1075.2h0M454.2 1097.6h0M473 1062.3h0M470 1066.4h0M448.7 1082.8h0M466.1 1076.3h0M478.5 1047h0M421 1108.2h0M455.8 1075.8h0M455 1088.4h0M474.8 1047.6h0M447.9 1072.3h0M486.9 1053.8h0M476.1 1065.2h0M403.5 1120.4h0M546 979.8h0M465.3 1057.8h0M491.1 1058.5h0M475.4 1061.2h0M529.3 1020.5h0M498.4 1012.1h0M535.5 983.7h0M511.6 995.3h0M485.1 1042.2h0" stroke="#050505" stroke-width="8.8" stroke-linecap="round"/>
<polyline points="385,1132 411,1110 425.6,1097.7 431,1093.2 436.3,1088.6 441.7,1084.1 447.1,1079.7 451.9,1075.7 457.4,1071.2 462.1,1067.5 466.9,1063.8 471.2,1060.4 474.8,1057.6 479.1,1054.4 482.7,1051.6 486.3,1048.8 490.5,1045.4 496,1041 503.2,1035.2 510.4,1029 518.5,1022.1 527.8,1014.5 537.1,1007 550.4,996.3 578.2,973.5" fill="none" stroke="#ec2a2a" stroke-width="8.2" stroke-linecap="round" stroke-dasharray="0 12"/>
<path d="M648 963.9V1141.9H858.3" fill="none" stroke="#3e3a38" stroke-width="2.8"/>
<path d="M688 1141.9v10M748.8 1141.9v10M809.6 1141.9v10M648 1099.2h-12M648 1055.2h-12M648 1011.2h-12M648 967.2h-12" stroke="#3e3a38" stroke-width="2.8"/>
<text x="688" y="1176.9" text-anchor="middle" font-size="35.5" fill="#111">15</text>
<text x="809.6" y="1176.9" text-anchor="middle" font-size="35.5" fill="#111">25</text>
<text transform="translate(635.5,1097.2) rotate(-90)" text-anchor="middle" font-size="35.5" fill="#111">15</text>
<text transform="translate(635.5,1012.1) rotate(-90)" text-anchor="middle" font-size="35.5" fill="#111">25</text>
<path d="M655.2 1135.3h0M849.7 968.1h0M657.5 1127.7h0M675.9 1123.8h0M780.2 1055.8h0M748.7 1051h0M759.2 1040.5h0M743 1089.8h0M666.7 1115.5h0M788.5 1003.7h0M815 975.9h0M747.9 1036.3h0M783 1046.3h0M716.4 1074.6h0M664.4 1113.7h0M705 1076.9h0M838.2 990.3h0M744.6 1083.5h0M671.3 1081.4h0M715.6 1079.3h0M761.6 1024.6h0M763.2 1055.1h0M722.2 1033h0M736.5 1045.6h0M693.3 1093.4h0M792.2 1025.4h0M757.6 1049h0M712.2 1087h0M769.1 1056.5h0M735.6 1069.9h0M786.7 1073.4h0M760 1041.4h0M796.5 1052.4h0M810.4 1008.8h0M784.8 1007.1h0M692 1038h0M682.8 1063.5h0M701.1 1033.8h0M686.9 1094.1h0M690.7 1095.5h0M685.6 1092h0M795 1013.8h0M695.9 1102.8h0M754.3 1085.6h0M826.6 1044.9h0M741.4 1069.3h0M720.6 1096.2h0M760.8 1062.9h0M819.6 1000.4h0M740.6 1059.9h0M739 1094.8h0M791.3 1026.2h0M703.7 1104.6h0M790.4 1049.7h0M669 1096.9h0M662.1 1111.9h0M758.4 1048.3h0M783.9 988.6h0M717.2 1050.4h0M713.9 1067h0M734.8 1018.8h0M772.8 1043.6h0M728.9 993.7h0M781.1 1022.2h0M767.3 1030.4h0M751.1 1065.8h0M723.1 1054.4h0M782.1 987h0M749.5 1060.6h0M747.1 1086.3h0M723.9 1027.1h0M764.9 1042.9h0M808.1 1077.5h0M732.3 1044.2h0M793.2 1029.6h0M706.3 1070.5h0M729.8 1091.2h0M821.9 1010.4h0M771.9 1035.5h0M817.3 1023.7h0M699.8 1068.2h0M708.8 1071.1h0M789.5 1037.2h0M675.9 1110.1h0M787.6 998.7h0M777.4 1005.4h0M718.1 1082.1h0M765.7 1072.8h0M725.6 1064.7h0M689.5 1071.7h0M778.4 1068.7h0M684.3 1100.9h0M746.3 1074h0M738.1 1092.7h0M730.6 1064.1h0M702.4 1089.1h0M680.5 1080h0M719.7 1078.7h0M724.7 992h0M750.3 1087.7h0M756.8 1015.5h0M745.4 1039.7h0M678.2 1067.6h0M727.3 972h0M773.7 1084.2h0M713 1061.7h0M776.5 1038.9h0M726.4 1057.2h0M743.8 1017.1h0M731.4 1080.7h0M742.2 1032.1h0M673.6 1078.1h0M775.6 997h0M694.6 1106.4h0M737.3 1084.9h0M688.2 1090.5h0M710.1 1099.1h0M812.7 1002h0M771 1031.3h0M762.4 1051.7h0M785.8 1053.1h0M801.2 1028.8h0M728.1 1027.9h0M803.5 1034.6h0M698.5 1075.2h0M697.2 1097.6h0M707.5 1062.3h0M714.7 1066.4h0M721.4 1082.8h0M733.9 1076.3h0M755.2 1047h0M711.4 1108.2h0M718.9 1075.8h0M756 1088.4h0M739.8 1047.6h0M753.5 1072.3h0M733.1 1053.8h0M779.3 1065.2h0M659.8 1120.4h0M751.9 979.8h0M764.1 1057.8h0M766.5 1058.5h0M752.7 1061.2h0M798.8 1020.5h0M770 1012.1h0M805.8 983.7h0M768.2 995.3h0M774.7 1042.2h0" stroke="#050505" stroke-width="8.8" stroke-linecap="round"/>
<polyline points="655.2,1114.1 669,1104.2 680.5,1096.1 689.5,1089.9 697.2,1084.4 705,1079.1 712.2,1075 717.2,1072.6 723.1,1069.8 728.1,1067.3 733.1,1064.7 738.1,1062.1 743,1059.5 747.9,1056.9 752.7,1054.3 757.6,1051.2 763.2,1047.5 768.2,1044.2 773.7,1040.2 779.3,1036.1 784.8,1032.1 790.4,1028.2 798.8,1021.9 812.7,1011.3 849.7,983.2" fill="none" stroke="#ec2a2a" stroke-width="8.2" stroke-linecap="round" stroke-dasharray="0 12"/>
<path d="M920.6 963.9V1141.9H1132.1" fill="none" stroke="#3e3a38" stroke-width="2.8"/>
<path d="M941.6 1141.9v10M989 1141.9v10M1036.5 1141.9v10M1083.9 1141.9v10M920.6 1099.2h-12M920.6 1055.2h-12M920.6 1011.2h-12M920.6 967.2h-12" stroke="#3e3a38" stroke-width="2.8"/>
<text x="941.6" y="1176.9" text-anchor="middle" font-size="35.5" fill="#111">15</text>
<text x="1036.5" y="1176.9" text-anchor="middle" font-size="35.5" fill="#111">25</text>
<text transform="translate(908.1,1097.2) rotate(-90)" text-anchor="middle" font-size="35.5" fill="#111">15</text>
<text transform="translate(908.1,1012.1) rotate(-90)" text-anchor="middle" font-size="35.5" fill="#111">25</text>
<path d="M926.4 1135.3h0M1116.4 968.1h0M929.8 1127.7h0M1106.7 1123.8h0M1066.4 1055.8h0M993.4 1051h0M997.6 1040.5h0M1010.9 1089.8h0M950.1 1115.5h0M1009.4 1003.7h0M1097.4 975.9h0M1031.8 1036.3h0M1028.4 1046.3h0M1003.8 1074.6h0M947 1113.7h0M990.7 1076.9h0M1012.3 990.3h0M978 1083.5h0M998.3 1081.4h0M1007.3 1079.3h0M1058.6 1024.6h0M1029.3 1055.1h0M1080.6 1033h0M1036.1 1045.6h0M958.9 1093.4h0M1048.8 1025.4h0M996.2 1049h0M1002.4 1087h0M1030.1 1056.5h0M969.6 1069.9h0M1008.7 1073.4h0M1005.2 1041.4h0M1015.2 1052.4h0M1060.6 1008.8h0M1027.6 1007.1h0M1033.6 1038h0M987.9 1063.5h0M1032.7 1033.8h0M999 1094.1h0M984.3 1095.5h0M957.4 1092h0M1008 1013.8h0M942.1 1102.8h0M983.3 1085.6h0M1013 1044.9h0M1025.9 1069.3h0M986.4 1096.2h0M1003.1 1062.9h0M1071.7 1000.4h0M1013.7 1059.9h0M980.1 1094.8h0M1068.2 1026.2h0M944.6 1104.6h0M1018.8 1049.7h0M956 1096.9h0M934.7 1111.9h0M1056.7 1048.3h0M1040.4 988.6h0M1037 1050.4h0M1042.9 1067h0M1005.9 1018.8h0M1021.6 1043.6h0M1082.4 993.7h0M1026.7 1022.2h0M1038.7 1030.4h0M1000.3 1065.8h0M1020.2 1054.4h0M1075.3 987h0M996.9 1060.6h0M994.8 1086.3h0M960.4 1027.1h0M1044.6 1042.9h0M981.2 1077.5h0M1078.8 1044.2h0M999.7 1029.6h0M992 1070.5h0M1017.3 1091.2h0M1006.6 1010.4h0M1024.5 1035.5h0M1045.5 1023.7h0M982.2 1068.2h0M1015.9 1071.1h0M1050.8 1037.2h0M966.3 1110.1h0M1109.1 998.7h0M1070 1005.4h0M1001 1082.1h0M948.6 1072.8h0M1022.4 1064.7h0M1077 1071.7h0M968.6 1068.7h0M953 1100.9h0M988.6 1074h0M951.5 1092.7h0M1039.5 1064.1h0M1011.6 1089.1h0M974.9 1080h0M1010.2 1078.7h0M1073.5 992h0M967.5 1087.7h0M1037.8 1015.5h0M1064.5 1039.7h0M1018 1067.6h0M1123.8 972h0M1014.5 1084.2h0M994.1 1061.7h0M1001.7 1038.9h0M1023.8 1057.2h0M985.4 1017.1h0M989.3 1080.7h0M1020.9 1032.1h0M972.8 1078.1h0M1086.9 997h0M939.7 1106.4h0M961.9 1084.9h0M937.2 1090.5h0M954.5 1099.1h0M963.3 1002h0M1052.7 1031.3h0M1031 1051.7h0M1062.6 1053.1h0M1042.1 1028.8h0M1102.7 1027.9h0M991.3 1034.6h0M990 1075.2h0M964.8 1097.6h0M1004.5 1062.3h0M970.7 1066.4h0M975.9 1082.8h0M977 1076.3h0M1041.2 1047h0M973.8 1108.2h0M1016.6 1075.8h0M971.7 1088.4h0M1023.1 1047.6h0M987.2 1072.3h0M992.7 1053.8h0M1035.3 1065.2h0M932.3 1120.4h0M1084.1 979.8h0M1025.2 1057.8h0M979.1 1058.5h0M1046.8 1061.2h0M1054.7 1020.5h0M1092.1 1012.1h0M1034.4 983.7h0M1043.8 995.3h0M1019.5 1042.2h0" stroke="#050505" stroke-width="8.8" stroke-linecap="round"/>
<polyline points="926.4,1119 942.1,1106.7 953,1098.2 961.9,1091.2 969.6,1085.2 975.9,1080.5 982.2,1076.2 987.9,1072.5 992.7,1069.5 997.6,1066.6 1001.7,1064 1005.9,1061.4 1010.2,1058.7 1014.5,1055.9 1018.8,1053.2 1023.1,1050.6 1028.4,1047.4 1033.6,1044.3 1038.7,1040.9 1043.8,1037.2 1052.7,1030.6 1064.5,1022.1 1075.3,1014.1 1086.9,1005.4 1123.8,977.5" fill="none" stroke="#ec2a2a" stroke-width="8.2" stroke-linecap="round" stroke-dasharray="0 12"/>
<path d="M109 1201.2V1378.5H315" fill="none" stroke="#3e3a38" stroke-width="2.8"/>
<path d="M124.9 1378.5v10M152.7 1378.5v10M180.5 1378.5v10M208.3 1378.5v10M236.1 1378.5v10M263.9 1378.5v10M291.7 1378.5v10M109 1357.5h-12M109 1333.8h-12M109 1310h-12M109 1286.2h-12M109 1262.3h-12M109 1238.5h-12M109 1214.8h-12" stroke="#3e3a38" stroke-width="2.8"/>
<text x="124.9" y="1413.5" text-anchor="middle" font-size="35.5" fill="#111">12</text>
<text x="208.3" y="1413.5" text-anchor="middle" font-size="35.5" fill="#111">18</text>
<text x="291.7" y="1413.5" text-anchor="middle" font-size="35.5" fill="#111">24</text>
<text transform="translate(96.5,1357.7) rotate(-90)" text-anchor="middle" font-size="35.5" fill="#111">14</text>
<text transform="translate(96.5,1259.7) rotate(-90)" text-anchor="middle" font-size="35.5" fill="#111">22</text>
<path d="M116.6 1369.5h0M307 1204h0M119.8 1365.8h0M120 1273.1h0M243 1246.4h0M222.6 1280.5h0M217.1 1272h0M215.7 1296.1h0M126.4 1358.4h0M284.6 1256.7h0M279.1 1253.3h0M266 1255.6h0M208.8 1275.7h0M178.2 1274.1h0M136.4 1345.3h0M173.8 1326.3h0M291.1 1263.6h0M195.5 1297.6h0M185.2 1320.5h0M211.5 1306.7h0M241.9 1244.1h0M189.8 1296.8h0M197.5 1254.4h0M215 1257.9h0M179 1317.6h0M287.9 1225.2h0M210.2 1294.7h0M202.1 1301.1h0M262.8 1259h0M196.8 1292.6h0M208.1 1311h0M203.4 1304.6h0M233.6 1290.5h0M239.8 1248.7h0M230.9 1230.6h0M204.7 1300.4h0M186.7 1323.4h0M252.3 1278.4h0M182.8 1313.2h0M167.2 1327h0M181.3 1333.1h0M198.8 1272.5h0M168 1343.5h0M172.4 1322.6h0M229.1 1264.7h0M213.6 1291.2h0M180.5 1319h0M184.4 1303.9h0M249.5 1287.7h0M216.4 1266.7h0M165.8 1315.4h0M231.5 1236h0M146.6 1340.1h0M200.8 1282.1h0M156 1338.3h0M142.4 1351h0M227.3 1278.9h0M246.7 1266.1h0M182 1311.7h0M220.2 1283.2h0M245.3 1267.2h0M204 1271.5h0M258.1 1208.6h0M222 1276.3h0M219.6 1265.6h0M209.5 1280h0M218.4 1276.8h0M250.9 1233.3h0M191.4 1282.6h0M190.6 1299h0M294.4 1222.1h0M232.5 1268.8h0M192.9 1306h0M255.2 1245.3h0M234.6 1268.3h0M194.9 1321.2h0M200.1 1283.7h0M223.8 1267.7h0M237.7 1274.7h0M264.4 1217.6h0M189.1 1308.1h0M225 1298.3h0M196.2 1287h0M144.5 1354.7h0M228.5 1213.1h0M259.6 1252.2h0M185.9 1318.3h0M207.4 1302.5h0M225.6 1309.6h0M223.2 1279.4h0M219.1 1289.8h0M153.1 1336.6h0M188.3 1316.1h0M169.4 1341.8h0M193.6 1285.3h0M177.5 1327.7h0M179.7 1325.6h0M198.1 1299.7h0M261.2 1241.4h0M212.9 1305.3h0M236.7 1277.8h0M221.4 1281.6h0M175.3 1319.7h0M302.6 1247.6h0M202.7 1324.1h0M206 1273.6h0M244 1288.4h0M229.7 1294h0M269.1 1238.7h0M187.5 1334.8h0M240.9 1270.4h0M173.1 1307.4h0M230.3 1227.9h0M159.2 1347h0M170.2 1295.4h0M183.6 1328.5h0M171.6 1331.3h0M210.8 1277.3h0M224.4 1285.8h0M238.8 1286.4h0M214.3 1273.1h0M248.1 1261.3h0M235.7 1269.9h0M253.7 1269.3h0M148.8 1321.9h0M170.9 1314.6h0M206.7 1284.2h0M192.2 1316.8h0M168.7 1329.6h0M176.8 1291.9h0M226.7 1270.9h0M150.9 1348.8h0M162.5 1312.5h0M199.4 1293.3h0M256.6 1303.2h0M174.6 1301.8h0M194.2 1310.3h0M212.2 1308.8h0M123.1 1362.1h0M226.2 1251h0M176 1289.1h0M220.8 1313.9h0M205.3 1324.8h0M267.6 1260.2h0M298.2 1262.5h0M272.1 1249.9h0M217.8 1284.8h0M227.9 1281h0" stroke="#050505" stroke-width="8.8" stroke-linecap="round"/>
<polyline points="116.6,1368.1 142.4,1346.3 156,1334.9 168.7,1324.1 173.1,1320.4 177.5,1316.6 182,1312.7 186.7,1308.7 192.2,1304.1 196.2,1300.9 200.1,1297.7 204.7,1293.8 208.8,1290.3 212.9,1286.9 217.1,1283.8 220.8,1281.1 225,1278.3 228.5,1275.9 232.5,1273.1 238.8,1268.8 245.3,1264.7 253.7,1260.1 262.8,1255.3 279.1,1246.1 307,1230.6" fill="none" stroke="#ec2a2a" stroke-width="8.2" stroke-linecap="round" stroke-dasharray="0 12"/>
<path d="M378.8 1201.2V1378.5H589.6" fill="none" stroke="#3e3a38" stroke-width="2.8"/>
<path d="M418.4 1378.5v10M475.9 1378.5v10M533.4 1378.5v10M378.8 1357.5h-12M378.8 1333.8h-12M378.8 1310h-12M378.8 1286.2h-12M378.8 1262.3h-12M378.8 1238.5h-12M378.8 1214.8h-12" stroke="#3e3a38" stroke-width="2.8"/>
<text x="418.4" y="1413.5" text-anchor="middle" font-size="35.5" fill="#111">15</text>
<text x="533.4" y="1413.5" text-anchor="middle" font-size="35.5" fill="#111">25</text>
<text transform="translate(366.3,1357.7) rotate(-90)" text-anchor="middle" font-size="35.5" fill="#111">14</text>
<text transform="translate(366.3,1259.7) rotate(-90)" text-anchor="middle" font-size="35.5" fill="#111">22</text>
<path d="M385.6 1369.5h0M578.2 1204h0M395 1365.8h0M385 1273.1h0M518.5 1246.4h0M500.8 1280.5h0M509.2 1272h0M435.5 1296.1h0M406 1358.4h0M493.6 1256.7h0M548.2 1253.3h0M479.7 1255.6h0M502 1275.7h0M453.5 1274.1h0M411 1345.3h0M432.8 1326.3h0M554.8 1263.6h0M456.6 1297.6h0M439.9 1320.5h0M446.2 1306.7h0M488.1 1244.1h0M462.1 1296.8h0M482.7 1254.4h0M496 1257.9h0M439 1317.6h0M537.1 1225.2h0M499.6 1294.7h0M464.5 1301.1h0M470.6 1259h0M463.7 1292.6h0M459 1311h0M473.6 1304.6h0M469.2 1290.5h0M520 1248.7h0M527.8 1230.6h0M497.2 1300.4h0M459.8 1323.4h0M510.4 1278.4h0M428.3 1313.2h0M425.6 1327h0M442.6 1333.1h0M543.8 1272.5h0M408.5 1343.5h0M444.4 1322.6h0M508 1264.7h0M505.6 1291.2h0M431.9 1319h0M489.3 1303.9h0M523.1 1287.7h0M490.5 1266.7h0M436.3 1315.4h0M526.2 1236h0M427.4 1340.1h0M489.9 1282.1h0M431 1338.3h0M418.5 1351h0M486.3 1278.9h0M541.6 1266.1h0M451.9 1311.7h0M477.9 1283.2h0M530.8 1267.2h0M468.5 1271.5h0M533.9 1208.6h0M524.7 1276.3h0M532.4 1265.6h0M482.1 1280h0M488.7 1276.8h0M559.5 1233.3h0M483.9 1282.6h0M430.1 1299h0M565.7 1222.1h0M474.2 1268.8h0M487.5 1306h0M485.7 1245.3h0M514 1268.3h0M451.1 1321.2h0M441.7 1283.7h0M557 1267.7h0M480.3 1274.7h0M506.8 1217.6h0M467.7 1308.1h0M458.2 1298.3h0M504.4 1287h0M413.5 1354.7h0M479.1 1213.1h0M572 1252.2h0M433.7 1318.3h0M471.2 1302.5h0M450.3 1309.6h0M481.5 1279.4h0M457.4 1289.8h0M426.5 1336.6h0M449.5 1316.1h0M440.8 1341.8h0M452.7 1285.3h0M423.5 1327.7h0M434.6 1325.6h0M438.1 1299.7h0M550.4 1241.4h0M476.7 1305.3h0M503.2 1277.8h0M516.9 1281.6h0M445.3 1319.7h0M552.6 1247.6h0M447.1 1324.1h0M471.8 1273.6h0M483.3 1288.4h0M460.6 1294h0M539.3 1238.7h0M437.2 1334.8h0M484.5 1270.4h0M466.9 1307.4h0M521.6 1227.9h0M416 1347h0M443.5 1295.4h0M461.4 1328.5h0M429.2 1331.3h0M512.8 1277.3h0M492.4 1285.8h0M491.7 1286.4h0M462.9 1273.1h0M480.9 1261.3h0M494.8 1269.9h0M515.4 1269.3h0M472.4 1321.9h0M454.2 1314.6h0M473 1284.2h0M470 1316.8h0M448.7 1329.6h0M466.1 1291.9h0M478.5 1270.9h0M421 1348.8h0M455.8 1312.5h0M455 1293.3h0M474.8 1303.2h0M447.9 1301.8h0M486.9 1310.3h0M476.1 1308.8h0M403.5 1362.1h0M546 1251h0M465.3 1289.1h0M491.1 1313.9h0M475.4 1324.8h0M529.3 1260.2h0M498.4 1262.5h0M535.5 1249.9h0M511.6 1284.8h0M485.1 1281h0" stroke="#050505" stroke-width="8.8" stroke-linecap="round"/>
<polyline points="385,1373.5 411,1347.4 425.6,1333 431,1327.8 436.3,1322.5 441.7,1317.3 447.1,1312.2 451.9,1307.9 457.4,1303.3 462.1,1299.5 466.9,1295.7 471.2,1292.5 474.8,1290 479.1,1287.5 482.7,1285.4 486.3,1283.5 490.5,1281.1 496,1277.9 503.2,1273.4 510.4,1269.4 518.5,1265.3 527.8,1260.2 537.1,1254.8 550.4,1246.9 578.2,1230.7" fill="none" stroke="#ec2a2a" stroke-width="8.2" stroke-linecap="round" stroke-dasharray="0 12"/>
<path d="M648 1201.2V1378.5H858.3" fill="none" stroke="#3e3a38" stroke-width="2.8"/>
<path d="M688 1378.5v10M748.8 1378.5v10M809.6 1378.5v10M648 1357.5h-12M648 1333.8h-12M648 1310h-12M648 1286.2h-12M648 1262.3h-12M648 1238.5h-12M648 1214.8h-12" stroke="#3e3a38" stroke-width="2.8"/>
<text x="688" y="1413.5" text-anchor="middle" font-size="35.5" fill="#111">15</text>
<text x="809.6" y="1413.5" text-anchor="middle" font-size="35.5" fill="#111">25</text>
<text transform="translate(635.5,1357.7) rotate(-90)" text-anchor="middle" font-size="35.5" fill="#111">14</text>
<text transform="translate(635.5,1259.7) rotate(-90)" text-anchor="middle" font-size="35.5" fill="#111">22</text>
<path d="M655.2 1369.5h0M849.7 1204h0M657.5 1365.8h0M675.9 1273.1h0M780.2 1246.4h0M748.7 1280.5h0M759.2 1272h0M743 1296.1h0M666.7 1358.4h0M788.5 1256.7h0M815 1253.3h0M747.9 1255.6h0M783 1275.7h0M716.4 1274.1h0M664.4 1345.3h0M705 1326.3h0M838.2 1263.6h0M744.6 1297.6h0M671.3 1320.5h0M715.6 1306.7h0M761.6 1244.1h0M763.2 1296.8h0M722.2 1254.4h0M736.5 1257.9h0M693.3 1317.6h0M792.2 1225.2h0M757.6 1294.7h0M712.2 1301.1h0M769.1 1259h0M735.6 1292.6h0M786.7 1311h0M760 1304.6h0M796.5 1290.5h0M810.4 1248.7h0M784.8 1230.6h0M692 1300.4h0M682.8 1323.4h0M701.1 1278.4h0M686.9 1313.2h0M690.7 1327h0M685.6 1333.1h0M795 1272.5h0M695.9 1343.5h0M754.3 1322.6h0M826.6 1264.7h0M741.4 1291.2h0M720.6 1319h0M760.8 1303.9h0M819.6 1287.7h0M740.6 1266.7h0M739 1315.4h0M791.3 1236h0M703.7 1340.1h0M790.4 1282.1h0M669 1338.3h0M662.1 1351h0M758.4 1278.9h0M783.9 1266.1h0M717.2 1311.7h0M713.9 1283.2h0M734.8 1267.2h0M772.8 1271.5h0M728.9 1208.6h0M781.1 1276.3h0M767.3 1265.6h0M751.1 1280h0M723.1 1276.8h0M782.1 1233.3h0M749.5 1282.6h0M747.1 1299h0M723.9 1222.1h0M764.9 1268.8h0M808.1 1306h0M732.3 1245.3h0M793.2 1268.3h0M706.3 1321.2h0M729.8 1283.7h0M821.9 1267.7h0M771.9 1274.7h0M817.3 1217.6h0M699.8 1308.1h0M708.8 1298.3h0M789.5 1287h0M675.9 1354.7h0M787.6 1213.1h0M777.4 1252.2h0M718.1 1318.3h0M765.7 1302.5h0M725.6 1309.6h0M689.5 1279.4h0M778.4 1289.8h0M684.3 1336.6h0M746.3 1316.1h0M738.1 1341.8h0M730.6 1285.3h0M702.4 1327.7h0M680.5 1325.6h0M719.7 1299.7h0M724.7 1241.4h0M750.3 1305.3h0M756.8 1277.8h0M745.4 1281.6h0M678.2 1319.7h0M727.3 1247.6h0M773.7 1324.1h0M713 1273.6h0M776.5 1288.4h0M726.4 1294h0M743.8 1238.7h0M731.4 1334.8h0M742.2 1270.4h0M673.6 1307.4h0M775.6 1227.9h0M694.6 1347h0M737.3 1295.4h0M688.2 1328.5h0M710.1 1331.3h0M812.7 1277.3h0M771 1285.8h0M762.4 1286.4h0M785.8 1273.1h0M801.2 1261.3h0M728.1 1269.9h0M803.5 1269.3h0M698.5 1321.9h0M697.2 1314.6h0M707.5 1284.2h0M714.7 1316.8h0M721.4 1329.6h0M733.9 1291.9h0M755.2 1270.9h0M711.4 1348.8h0M718.9 1312.5h0M756 1293.3h0M739.8 1303.2h0M753.5 1301.8h0M733.1 1310.3h0M779.3 1308.8h0M659.8 1362.1h0M751.9 1251h0M764.1 1289.1h0M766.5 1313.9h0M752.7 1324.8h0M798.8 1260.2h0M770 1262.5h0M805.8 1249.9h0M768.2 1284.8h0M774.7 1281h0" stroke="#050505" stroke-width="8.8" stroke-linecap="round"/>
<polyline points="655.2,1353.2 669,1341.5 680.5,1331.9 689.5,1324.3 697.2,1317.8 705,1311.4 712.2,1306.3 717.2,1303.2 723.1,1299.6 728.1,1296.7 733.1,1293.9 738.1,1291.5 743,1289.3 747.9,1287.4 752.7,1285.6 757.6,1283.5 763.2,1281 768.2,1278.7 773.7,1276.3 779.3,1274 784.8,1271.8 790.4,1269.7 798.8,1266.1 812.7,1259.7 849.7,1243.3" fill="none" stroke="#ec2a2a" stroke-width="8.2" stroke-linecap="round" stroke-dasharray="0 12"/>
<path d="M920.6 1201.2V1378.5H1132.1" fill="none" stroke="#3e3a38" stroke-width="2.8"/>
<path d="M941.6 1378.5v10M989 1378.5v10M1036.5 1378.5v10M1083.9 1378.5v10M920.6 1357.5h-12M920.6 1333.8h-12M920.6 1310h-12M920.6 1286.2h-12M920.6 1262.3h-12M920.6 1238.5h-12M920.6 1214.8h-12" stroke="#3e3a38" stroke-width="2.8"/>
<text x="941.6" y="1413.5" text-anchor="middle" font-size="35.5" fill="#111">15</text>
<text x="1036.5" y="1413.5" text-anchor="middle" font-size="35.5" fill="#111">25</text>
<text transform="translate(908.1,1357.7) rotate(-90)" text-anchor="middle" font-size="35.5" fill="#111">14</text>
<text transform="translate(908.1,1259.7) rotate(-90)" text-anchor="middle" font-size="35.5" fill="#111">22</text>
<path d="M926.4 1369.5h0M1116.4 1204h0M929.8 1365.8h0M1106.7 1273.1h0M1066.4 1246.4h0M993.4 1280.5h0M997.6 1272h0M1010.9 1296.1h0M950.1 1358.4h0M1009.4 1256.7h0M1097.4 1253.3h0M1031.8 1255.6h0M1028.4 1275.7h0M1003.8 1274.1h0M947 1345.3h0M990.7 1326.3h0M1012.3 1263.6h0M978 1297.6h0M998.3 1320.5h0M1007.3 1306.7h0M1058.6 1244.1h0M1029.3 1296.8h0M1080.6 1254.4h0M1036.1 1257.9h0M958.9 1317.6h0M1048.8 1225.2h0M996.2 1294.7h0M1002.4 1301.1h0M1030.1 1259h0M969.6 1292.6h0M1008.7 1311h0M1005.2 1304.6h0M1015.2 1290.5h0M1060.6 1248.7h0M1027.6 1230.6h0M1033.6 1300.4h0M987.9 1323.4h0M1032.7 1278.4h0M999 1313.2h0M984.3 1327h0M957.4 1333.1h0M1008 1272.5h0M942.1 1343.5h0M983.3 1322.6h0M1013 1264.7h0M1025.9 1291.2h0M986.4 1319h0M1003.1 1303.9h0M1071.7 1287.7h0M1013.7 1266.7h0M980.1 1315.4h0M1068.2 1236h0M944.6 1340.1h0M1018.8 1282.1h0M956 1338.3h0M934.7 1351h0M1056.7 1278.9h0M1040.4 1266.1h0M1037 1311.7h0M1042.9 1283.2h0M1005.9 1267.2h0M1021.6 1271.5h0M1082.4 1208.6h0M1026.7 1276.3h0M1038.7 1265.6h0M1000.3 1280h0M1020.2 1276.8h0M1075.3 1233.3h0M996.9 1282.6h0M994.8 1299h0M960.4 1222.1h0M1044.6 1268.8h0M981.2 1306h0M1078.8 1245.3h0M999.7 1268.3h0M992 1321.2h0M1017.3 1283.7h0M1006.6 1267.7h0M1024.5 1274.7h0M1045.5 1217.6h0M982.2 1308.1h0M1015.9 1298.3h0M1050.8 1287h0M966.3 1354.7h0M1109.1 1213.1h0M1070 1252.2h0M1001 1318.3h0M948.6 1302.5h0M1022.4 1309.6h0M1077 1279.4h0M968.6 1289.8h0M953 1336.6h0M988.6 1316.1h0M951.5 1341.8h0M1039.5 1285.3h0M1011.6 1327.7h0M974.9 1325.6h0M1010.2 1299.7h0M1073.5 1241.4h0M967.5 1305.3h0M1037.8 1277.8h0M1064.5 1281.6h0M1018 1319.7h0M1123.8 1247.6h0M1014.5 1324.1h0M994.1 1273.6h0M1001.7 1288.4h0M1023.8 1294h0M985.4 1238.7h0M989.3 1334.8h0M1020.9 1270.4h0M972.8 1307.4h0M1086.9 1227.9h0M939.7 1347h0M961.9 1295.4h0M937.2 1328.5h0M954.5 1331.3h0M963.3 1277.3h0M1052.7 1285.8h0M1031 1286.4h0M1062.6 1273.1h0M1042.1 1261.3h0M1102.7 1269.9h0M991.3 1269.3h0M990 1321.9h0M964.8 1314.6h0M1004.5 1284.2h0M970.7 1316.8h0M975.9 1329.6h0M977 1291.9h0M1041.2 1270.9h0M973.8 1348.8h0M1016.6 1312.5h0M971.7 1293.3h0M1023.1 1303.2h0M987.2 1301.8h0M992.7 1310.3h0M1035.3 1308.8h0M932.3 1362.1h0M1084.1 1251h0M1025.2 1289.1h0M979.1 1313.9h0M1046.8 1324.8h0M1054.7 1260.2h0M1092.1 1262.5h0M1034.4 1249.9h0M1043.8 1284.8h0M1019.5 1281h0" stroke="#050505" stroke-width="8.8" stroke-linecap="round"/>
<polyline points="926.4,1355.8 942.1,1342.2 953,1332.9 961.9,1325.4 969.6,1318.7 975.9,1313.3 982.2,1308.5 987.9,1304.5 992.7,1301.6 997.6,1298.9 1001.7,1296.5 1005.9,1293.8 1010.2,1291.1 1014.5,1288.4 1018.8,1285.9 1023.1,1283.6 1028.4,1280.8 1033.6,1278 1038.7,1275 1043.8,1271.8 1052.7,1266.5 1064.5,1260.6 1075.3,1255.1 1086.9,1249.1 1123.8,1230.3" fill="none" stroke="#ec2a2a" stroke-width="8.2" stroke-linecap="round" stroke-dasharray="0 12"/>
<path d="M1188.1 1201.2V1378.5H1398.9" fill="none" stroke="#3e3a38" stroke-width="2.8"/>
<path d="M1237.3 1378.5v10M1287.8 1378.5v10M1338.3 1378.5v10M1188.1 1357.5h-12M1188.1 1333.8h-12M1188.1 1310h-12M1188.1 1286.2h-12M1188.1 1262.3h-12M1188.1 1238.5h-12M1188.1 1214.8h-12" stroke="#3e3a38" stroke-width="2.8"/>
<text x="1237.3" y="1413.5" text-anchor="middle" font-size="35.5" fill="#111">15</text>
<text x="1338.3" y="1413.5" text-anchor="middle" font-size="35.5" fill="#111">25</text>
<text transform="translate(1175.6,1357.7) rotate(-90)" text-anchor="middle" font-size="35.5" fill="#111">14</text>
<text transform="translate(1175.6,1259.7) rotate(-90)" text-anchor="middle" font-size="35.5" fill="#111">22</text>
<path d="M1195.9 1369.5h0M1387.8 1204h0M1204.6 1365.8h0M1209.1 1273.1h0M1287.2 1246.4h0M1292.6 1280.5h0M1304.7 1272h0M1248.1 1296.1h0M1218.6 1358.4h0M1346.9 1256.7h0M1378.9 1253.3h0M1309.5 1255.6h0M1298.1 1275.7h0M1265.6 1274.1h0M1220.7 1345.3h0M1262.9 1326.3h0M1362.3 1263.6h0M1255.4 1297.6h0M1257.8 1320.5h0M1260.2 1306.7h0M1323 1244.1h0M1287.9 1296.8h0M1313.4 1254.4h0M1298.9 1257.9h0M1244 1317.6h0M1322.1 1225.2h0M1295 1294.7h0M1251.3 1301.1h0M1286.4 1259h0M1271 1292.6h0M1266.9 1311h0M1303.7 1304.6h0M1291.1 1290.5h0M1341.1 1248.7h0M1343.1 1230.6h0M1307.6 1300.4h0M1278.3 1323.4h0M1312.4 1278.4h0M1243.2 1313.2h0M1241.6 1327h0M1245.7 1333.1h0M1335.4 1272.5h0M1233.2 1343.5h0M1252.9 1322.6h0M1299.6 1264.7h0M1271.6 1291.2h0M1240.8 1319h0M1279 1303.9h0M1350.8 1287.7h0M1282.5 1266.7h0M1242.4 1315.4h0M1321.1 1236h0M1231.2 1340.1h0M1294.2 1282.1h0M1240 1338.3h0M1222.8 1351h0M1295.7 1278.9h0M1364.2 1266.1h0M1293.4 1311.7h0M1274.3 1283.2h0M1329.6 1267.2h0M1301.2 1271.5h0M1358.5 1208.6h0M1325.8 1276.3h0M1316.3 1265.6h0M1275.6 1280h0M1288.7 1276.8h0M1366.2 1233.3h0M1281.7 1282.6h0M1252.1 1299h0M1320.1 1222.1h0M1302 1268.8h0M1262.2 1306h0M1300.4 1245.3h0M1317.2 1268.3h0M1270.3 1321.2h0M1246.5 1283.7h0M1339.2 1267.7h0M1310.5 1274.7h0M1324 1217.6h0M1273 1308.1h0M1269.6 1298.3h0M1308.5 1287h0M1224.9 1354.7h0M1352.7 1213.1h0M1345 1252.2h0M1257 1318.3h0M1267.6 1302.5h0M1277 1309.6h0M1268.9 1279.4h0M1272.3 1289.8h0M1235.3 1336.6h0M1266.3 1316.1h0M1244.8 1341.8h0M1277.7 1285.3h0M1248.9 1327.7h0M1259.4 1325.6h0M1260.9 1299.7h0M1360.4 1241.4h0M1250.5 1305.3h0M1333.5 1277.8h0M1305.6 1281.6h0M1273.6 1319.7h0M1383.4 1247.6h0M1254.6 1324.1h0M1280.3 1273.6h0M1306.6 1288.4h0M1285.6 1294h0M1331.5 1238.7h0M1258.6 1334.8h0M1314.3 1270.4h0M1261.6 1307.4h0M1354.6 1227.9h0M1229.1 1347h0M1253.7 1295.4h0M1247.3 1328.5h0M1237.4 1331.3h0M1348.8 1277.3h0M1315.3 1285.8h0M1291.8 1286.4h0M1290.3 1273.1h0M1318.2 1261.3h0M1319.2 1269.9h0M1311.4 1269.3h0M1264.9 1321.9h0M1239.2 1314.6h0M1279.7 1284.2h0M1275 1316.8h0M1256.2 1329.6h0M1263.6 1291.9h0M1297.3 1270.9h0M1227 1348.8h0M1264.2 1312.5h0M1249.7 1293.3h0M1296.5 1303.2h0M1268.3 1301.8h0M1289.5 1310.3h0M1276.3 1308.8h0M1213 1362.1h0M1374.4 1251h0M1284.8 1289.1h0M1284 1313.9h0M1281 1324.8h0M1327.7 1260.2h0M1337.3 1262.5h0M1369.9 1249.9h0M1356.5 1284.8h0M1302.8 1281h0" stroke="#050505" stroke-width="8.8" stroke-linecap="round"/>
<polyline points="1195.9,1373.5 1222.8,1346.3 1235.3,1334 1242.4,1327.1 1247.3,1322.3 1252.1,1317.5 1257,1312.9 1261.6,1308.7 1266.3,1304.8 1270.3,1301.7 1274.3,1298.7 1278.3,1295.7 1282.5,1292.6 1287.9,1288.4 1292.6,1284.7 1297.3,1281 1302.8,1277.1 1308.5,1273.4 1314.3,1270.1 1320.1,1267.1 1327.7,1263.6 1339.2,1258.7 1350.8,1253.5 1362.3,1248.3 1387.8,1237.2" fill="none" stroke="#ec2a2a" stroke-width="8.2" stroke-linecap="round" stroke-dasharray="0 12"/>
<path d="M109 1432.7V1616.9H315" fill="none" stroke="#3e3a38" stroke-width="2.8"/>
<path d="M124.9 1616.9v10M152.7 1616.9v10M180.5 1616.9v10M208.3 1616.9v10M236.1 1616.9v10M263.9 1616.9v10M291.7 1616.9v10M109 1571.5h-12M109 1527.1h-12M109 1482.7h-12M109 1438.3h-12" stroke="#3e3a38" stroke-width="2.8"/>
<text x="124.9" y="1651.9" text-anchor="middle" font-size="35.5" fill="#111">12</text>
<text x="208.3" y="1651.9" text-anchor="middle" font-size="35.5" fill="#111">18</text>
<text x="291.7" y="1651.9" text-anchor="middle" font-size="35.5" fill="#111">24</text>
<text transform="translate(96.5,1569.4) rotate(-90)" text-anchor="middle" font-size="35.5" fill="#111">15</text>
<text transform="translate(96.5,1482.7) rotate(-90)" text-anchor="middle" font-size="35.5" fill="#111">25</text>
<path d="M116.6 1607h0M307 1438.3h0M119.8 1599.7h0M120 1523.5h0M243 1517.1h0M222.6 1491.9h0M217.1 1522.2h0M215.7 1540h0M126.4 1582.7h0M284.6 1477.3h0M279.1 1491.3h0M266 1509.9h0M208.8 1520.7h0M178.2 1499.9h0M136.4 1578.4h0M173.8 1539.4h0M291.1 1451.3h0M195.5 1483.6h0M185.2 1543.9h0M211.5 1546.7h0M241.9 1535.5h0M189.8 1485.7h0M197.5 1500.6h0M215 1527.2h0M179 1551h0M287.9 1523.6h0M210.2 1537.2h0M202.1 1561h0M262.8 1495.3h0M196.8 1554h0M208.1 1525.8h0M203.4 1503.9h0M233.6 1512.8h0M239.8 1459.9h0M230.9 1490.6h0M204.7 1503.3h0M186.7 1518.6h0M252.3 1547.8h0M182.8 1517.8h0M167.2 1562h0M181.3 1576.2h0M198.8 1538.9h0M168 1574h0M172.4 1536.1h0M229.1 1498.6h0M213.6 1501.3h0M180.5 1541.7h0M184.4 1528.6h0M249.5 1480.5h0M216.4 1512.1h0M165.8 1529.3h0M231.5 1475.2h0M146.6 1566h0M200.8 1493.3h0M156 1580.6h0M142.4 1592.3h0M227.3 1520h0M246.7 1472.1h0M182 1533.8h0M220.2 1525h0M245.3 1540.5h0M204 1486.7h0M258.1 1473.1h0M222 1509.2h0M219.6 1542.8h0M209.5 1497.3h0M218.4 1527.9h0M250.9 1531.6h0M191.4 1550h0M190.6 1543.3h0M294.4 1505.9h0M232.5 1504.6h0M192.9 1526.5h0M255.2 1487.8h0M234.6 1492.6h0M194.9 1522.9h0M200.1 1495.9h0M223.8 1508.6h0M237.7 1515h0M264.4 1478.4h0M189.1 1547.3h0M225 1532.7h0M196.2 1555h0M144.5 1571.8h0M228.5 1455.6h0M259.6 1468.5h0M185.9 1558h0M207.4 1530.5h0M225.6 1553h0M223.2 1476.3h0M219.1 1537.7h0M153.1 1569.7h0M188.3 1552h0M169.4 1567h0M193.6 1524.3h0M177.5 1521.4h0M179.7 1565h0M198.1 1549h0M261.2 1481.5h0M212.9 1568h0M236.7 1479.4h0M221.4 1548.4h0M175.3 1516.4h0M302.6 1488.8h0M202.7 1546.2h0M206 1493.9h0M244 1531h0M229.7 1511.4h0M269.1 1482.6h0M187.5 1542.2h0M240.9 1515.7h0M173.1 1560h0M230.3 1507.2h0M159.2 1557h0M170.2 1529.9h0M183.6 1545h0M171.6 1559h0M210.8 1471h0M224.4 1506.6h0M238.8 1474.2h0M214.3 1510.6h0M248.1 1489.9h0M235.7 1514.2h0M253.7 1494.6h0M148.8 1564h0M170.9 1556h0M206.7 1501.9h0M192.2 1544.5h0M168.7 1584.9h0M176.8 1519.3h0M226.7 1534.4h0M150.9 1563h0M162.5 1545.6h0M199.4 1505.2h0M256.6 1507.9h0M174.6 1532.1h0M194.2 1536.6h0M212.2 1496.6h0M123.1 1587.1h0M226.2 1499.3h0M176 1538.3h0M220.8 1533.3h0M205.3 1513.5h0M267.6 1464.2h0M298.2 1502.6h0M272.1 1497.9h0M217.8 1541.1h0M227.9 1484.6h0" stroke="#050505" stroke-width="8.8" stroke-linecap="round"/>
<polyline points="116.6,1596.2 142.4,1573.9 156,1562.1 168.7,1551.3 173.1,1547.4 177.5,1543.5 182,1539.5 186.7,1535.5 192.2,1531.4 196.2,1528.8 200.1,1526.4 204.7,1523.8 208.8,1521.1 212.9,1518.3 217.1,1515.8 220.8,1513.9 225,1511.9 228.5,1510.1 232.5,1507.8 238.8,1504.2 245.3,1500.6 253.7,1497.2 262.8,1493.7 279.1,1486.5 307,1474.7" fill="none" stroke="#ec2a2a" stroke-width="8.2" stroke-linecap="round" stroke-dasharray="0 12"/>
<path d="M378.8 1432.7V1616.9H589.6" fill="none" stroke="#3e3a38" stroke-width="2.8"/>
<path d="M418.4 1616.9v10M475.9 1616.9v10M533.4 1616.9v10M378.8 1571.5h-12M378.8 1527.1h-12M378.8 1482.7h-12M378.8 1438.3h-12" stroke="#3e3a38" stroke-width="2.8"/>
<text x="418.4" y="1651.9" text-anchor="middle" font-size="35.5" fill="#111">15</text>
<text x="533.4" y="1651.9" text-anchor="middle" font-size="35.5" fill="#111">25</text>
<text transform="translate(366.3,1569.4) rotate(-90)" text-anchor="middle" font-size="35.5" fill="#111">15</text>
<text transform="translate(366.3,1482.7) rotate(-90)" text-anchor="middle" font-size="35.5" fill="#111">25</text>
<path d="M385.6 1607h0M578.2 1438.3h0M395 1599.7h0M385 1523.5h0M518.5 1517.1h0M500.8 1491.9h0M509.2 1522.2h0M435.5 1540h0M406 1582.7h0M493.6 1477.3h0M548.2 1491.3h0M479.7 1509.9h0M502 1520.7h0M453.5 1499.9h0M411 1578.4h0M432.8 1539.4h0M554.8 1451.3h0M456.6 1483.6h0M439.9 1543.9h0M446.2 1546.7h0M488.1 1535.5h0M462.1 1485.7h0M482.7 1500.6h0M496 1527.2h0M439 1551h0M537.1 1523.6h0M499.6 1537.2h0M464.5 1561h0M470.6 1495.3h0M463.7 1554h0M459 1525.8h0M473.6 1503.9h0M469.2 1512.8h0M520 1459.9h0M527.8 1490.6h0M497.2 1503.3h0M459.8 1518.6h0M510.4 1547.8h0M428.3 1517.8h0M425.6 1562h0M442.6 1576.2h0M543.8 1538.9h0M408.5 1574h0M444.4 1536.1h0M508 1498.6h0M505.6 1501.3h0M431.9 1541.7h0M489.3 1528.6h0M523.1 1480.5h0M490.5 1512.1h0M436.3 1529.3h0M526.2 1475.2h0M427.4 1566h0M489.9 1493.3h0M431 1580.6h0M418.5 1592.3h0M486.3 1520h0M541.6 1472.1h0M451.9 1533.8h0M477.9 1525h0M530.8 1540.5h0M468.5 1486.7h0M533.9 1473.1h0M524.7 1509.2h0M532.4 1542.8h0M482.1 1497.3h0M488.7 1527.9h0M559.5 1531.6h0M483.9 1550h0M430.1 1543.3h0M565.7 1505.9h0M474.2 1504.6h0M487.5 1526.5h0M485.7 1487.8h0M514 1492.6h0M451.1 1522.9h0M441.7 1495.9h0M557 1508.6h0M480.3 1515h0M506.8 1478.4h0M467.7 1547.3h0M458.2 1532.7h0M504.4 1555h0M413.5 1571.8h0M479.1 1455.6h0M572 1468.5h0M433.7 1558h0M471.2 1530.5h0M450.3 1553h0M481.5 1476.3h0M457.4 1537.7h0M426.5 1569.7h0M449.5 1552h0M440.8 1567h0M452.7 1524.3h0M423.5 1521.4h0M434.6 1565h0M438.1 1549h0M550.4 1481.5h0M476.7 1568h0M503.2 1479.4h0M516.9 1548.4h0M445.3 1516.4h0M552.6 1488.8h0M447.1 1546.2h0M471.8 1493.9h0M483.3 1531h0M460.6 1511.4h0M539.3 1482.6h0M437.2 1542.2h0M484.5 1515.7h0M466.9 1560h0M521.6 1507.2h0M416 1557h0M443.5 1529.9h0M461.4 1545h0M429.2 1559h0M512.8 1471h0M492.4 1506.6h0M491.7 1474.2h0M462.9 1510.6h0M480.9 1489.9h0M494.8 1514.2h0M515.4 1494.6h0M472.4 1564h0M454.2 1556h0M473 1501.9h0M470 1544.5h0M448.7 1584.9h0M466.1 1519.3h0M478.5 1534.4h0M421 1563h0M455.8 1545.6h0M455 1505.2h0M474.8 1507.9h0M447.9 1532.1h0M486.9 1536.6h0M476.1 1496.6h0M403.5 1587.1h0M546 1499.3h0M465.3 1538.3h0M491.1 1533.3h0M475.4 1513.5h0M529.3 1464.2h0M498.4 1502.6h0M535.5 1497.9h0M511.6 1541.1h0M485.1 1484.6h0" stroke="#050505" stroke-width="8.8" stroke-linecap="round"/>
<polyline points="385,1599.7 411,1573.7 425.6,1559.4 431,1554.1 436.3,1548.9 441.7,1543.8 447.1,1539 451.9,1534.9 457.4,1530.6 462.1,1527 466.9,1523.7 471.2,1521 474.8,1518.9 479.1,1516.7 482.7,1515.1 486.3,1513.6 490.5,1511.9 496,1509.8 503.2,1507.2 510.4,1504.9 518.5,1502.5 527.8,1499.4 537.1,1495.7 550.4,1490.5 578.2,1479.6" fill="none" stroke="#ec2a2a" stroke-width="8.2" stroke-linecap="round" stroke-dasharray="0 12"/>
<path d="M648 1432.7V1616.9H858.3" fill="none" stroke="#3e3a38" stroke-width="2.8"/>
<path d="M688 1616.9v10M748.8 1616.9v10M809.6 1616.9v10M648 1571.5h-12M648 1527.1h-12M648 1482.7h-12M648 1438.3h-12" stroke="#3e3a38" stroke-width="2.8"/>
<text x="688" y="1651.9" text-anchor="middle" font-size="35.5" fill="#111">15</text>
<text x="809.6" y="1651.9" text-anchor="middle" font-size="35.5" fill="#111">25</text>
<text transform="translate(635.5,1569.4) rotate(-90)" text-anchor="middle" font-size="35.5" fill="#111">15</text>
<text transform="translate(635.5,1482.7) rotate(-90)" text-anchor="middle" font-size="35.5" fill="#111">25</text>
<path d="M655.2 1607h0M849.7 1438.3h0M657.5 1599.7h0M675.9 1523.5h0M780.2 1517.1h0M748.7 1491.9h0M759.2 1522.2h0M743 1540h0M666.7 1582.7h0M788.5 1477.3h0M815 1491.3h0M747.9 1509.9h0M783 1520.7h0M716.4 1499.9h0M664.4 1578.4h0M705 1539.4h0M838.2 1451.3h0M744.6 1483.6h0M671.3 1543.9h0M715.6 1546.7h0M761.6 1535.5h0M763.2 1485.7h0M722.2 1500.6h0M736.5 1527.2h0M693.3 1551h0M792.2 1523.6h0M757.6 1537.2h0M712.2 1561h0M769.1 1495.3h0M735.6 1554h0M786.7 1525.8h0M760 1503.9h0M796.5 1512.8h0M810.4 1459.9h0M784.8 1490.6h0M692 1503.3h0M682.8 1518.6h0M701.1 1547.8h0M686.9 1517.8h0M690.7 1562h0M685.6 1576.2h0M795 1538.9h0M695.9 1574h0M754.3 1536.1h0M826.6 1498.6h0M741.4 1501.3h0M720.6 1541.7h0M760.8 1528.6h0M819.6 1480.5h0M740.6 1512.1h0M739 1529.3h0M791.3 1475.2h0M703.7 1566h0M790.4 1493.3h0M669 1580.6h0M662.1 1592.3h0M758.4 1520h0M783.9 1472.1h0M717.2 1533.8h0M713.9 1525h0M734.8 1540.5h0M772.8 1486.7h0M728.9 1473.1h0M781.1 1509.2h0M767.3 1542.8h0M751.1 1497.3h0M723.1 1527.9h0M782.1 1531.6h0M749.5 1550h0M747.1 1543.3h0M723.9 1505.9h0M764.9 1504.6h0M808.1 1526.5h0M732.3 1487.8h0M793.2 1492.6h0M706.3 1522.9h0M729.8 1495.9h0M821.9 1508.6h0M771.9 1515h0M817.3 1478.4h0M699.8 1547.3h0M708.8 1532.7h0M789.5 1555h0M675.9 1571.8h0M787.6 1455.6h0M777.4 1468.5h0M718.1 1558h0M765.7 1530.5h0M725.6 1553h0M689.5 1476.3h0M778.4 1537.7h0M684.3 1569.7h0M746.3 1552h0M738.1 1567h0M730.6 1524.3h0M702.4 1521.4h0M680.5 1565h0M719.7 1549h0M724.7 1481.5h0M750.3 1568h0M756.8 1479.4h0M745.4 1548.4h0M678.2 1516.4h0M727.3 1488.8h0M773.7 1546.2h0M713 1493.9h0M776.5 1531h0M726.4 1511.4h0M743.8 1482.6h0M731.4 1542.2h0M742.2 1515.7h0M673.6 1560h0M775.6 1507.2h0M694.6 1557h0M737.3 1529.9h0M688.2 1545h0M710.1 1559h0M812.7 1471h0M771 1506.6h0M762.4 1474.2h0M785.8 1510.6h0M801.2 1489.9h0M728.1 1514.2h0M803.5 1494.6h0M698.5 1564h0M697.2 1556h0M707.5 1501.9h0M714.7 1544.5h0M721.4 1584.9h0M733.9 1519.3h0M755.2 1534.4h0M711.4 1563h0M718.9 1545.6h0M756 1505.2h0M739.8 1507.9h0M753.5 1532.1h0M733.1 1536.6h0M779.3 1496.6h0M659.8 1587.1h0M751.9 1499.3h0M764.1 1538.3h0M766.5 1533.3h0M752.7 1513.5h0M798.8 1464.2h0M770 1502.6h0M805.8 1497.9h0M768.2 1541.1h0M774.7 1484.6h0" stroke="#050505" stroke-width="8.8" stroke-linecap="round"/>
<polyline points="655.2,1581.3 669,1569.9 680.5,1560.6 689.5,1553.3 697.2,1546.9 705,1540.7 712.2,1536.1 717.2,1533.6 723.1,1530.7 728.1,1528.3 733.1,1525.9 738.1,1523.8 743,1522 747.9,1520.4 752.7,1518.9 757.6,1517.2 763.2,1515.1 768.2,1513 773.7,1510.3 779.3,1507.4 784.8,1504.6 790.4,1501.5 798.8,1496.2 812.7,1486.8 849.7,1461.7" fill="none" stroke="#ec2a2a" stroke-width="8.2" stroke-linecap="round" stroke-dasharray="0 12"/>
<path d="M920.6 1432.7V1616.9H1132.1" fill="none" stroke="#3e3a38" stroke-width="2.8"/>
<path d="M941.6 1616.9v10M989 1616.9v10M1036.5 1616.9v10M1083.9 1616.9v10M920.6 1571.5h-12M920.6 1527.1h-12M920.6 1482.7h-12M920.6 1438.3h-12" stroke="#3e3a38" stroke-width="2.8"/>
<text x="941.6" y="1651.9" text-anchor="middle" font-size="35.5" fill="#111">15</text>
<text x="1036.5" y="1651.9" text-anchor="middle" font-size="35.5" fill="#111">25</text>
<text transform="translate(908.1,1569.4) rotate(-90)" text-anchor="middle" font-size="35.5" fill="#111">15</text>
<text transform="translate(908.1,1482.7) rotate(-90)" text-anchor="middle" font-size="35.5" fill="#111">25</text>
<path d="M926.4 1607h0M1116.4 1438.3h0M929.8 1599.7h0M1106.7 1523.5h0M1066.4 1517.1h0M993.4 1491.9h0M997.6 1522.2h0M1010.9 1540h0M950.1 1582.7h0M1009.4 1477.3h0M1097.4 1491.3h0M1031.8 1509.9h0M1028.4 1520.7h0M1003.8 1499.9h0M947 1578.4h0M990.7 1539.4h0M1012.3 1451.3h0M978 1483.6h0M998.3 1543.9h0M1007.3 1546.7h0M1058.6 1535.5h0M1029.3 1485.7h0M1080.6 1500.6h0M1036.1 1527.2h0M958.9 1551h0M1048.8 1523.6h0M996.2 1537.2h0M1002.4 1561h0M1030.1 1495.3h0M969.6 1554h0M1008.7 1525.8h0M1005.2 1503.9h0M1015.2 1512.8h0M1060.6 1459.9h0M1027.6 1490.6h0M1033.6 1503.3h0M987.9 1518.6h0M1032.7 1547.8h0M999 1517.8h0M984.3 1562h0M957.4 1576.2h0M1008 1538.9h0M942.1 1574h0M983.3 1536.1h0M1013 1498.6h0M1025.9 1501.3h0M986.4 1541.7h0M1003.1 1528.6h0M1071.7 1480.5h0M1013.7 1512.1h0M980.1 1529.3h0M1068.2 1475.2h0M944.6 1566h0M1018.8 1493.3h0M956 1580.6h0M934.7 1592.3h0M1056.7 1520h0M1040.4 1472.1h0M1037 1533.8h0M1042.9 1525h0M1005.9 1540.5h0M1021.6 1486.7h0M1082.4 1473.1h0M1026.7 1509.2h0M1038.7 1542.8h0M1000.3 1497.3h0M1020.2 1527.9h0M1075.3 1531.6h0M996.9 1550h0M994.8 1543.3h0M960.4 1505.9h0M1044.6 1504.6h0M981.2 1526.5h0M1078.8 1487.8h0M999.7 1492.6h0M992 1522.9h0M1017.3 1495.9h0M1006.6 1508.6h0M1024.5 1515h0M1045.5 1478.4h0M982.2 1547.3h0M1015.9 1532.7h0M1050.8 1555h0M966.3 1571.8h0M1109.1 1455.6h0M1070 1468.5h0M1001 1558h0M948.6 1530.5h0M1022.4 1553h0M1077 1476.3h0M968.6 1537.7h0M953 1569.7h0M988.6 1552h0M951.5 1567h0M1039.5 1524.3h0M1011.6 1521.4h0M974.9 1565h0M1010.2 1549h0M1073.5 1481.5h0M967.5 1568h0M1037.8 1479.4h0M1064.5 1548.4h0M1018 1516.4h0M1123.8 1488.8h0M1014.5 1546.2h0M994.1 1493.9h0M1001.7 1531h0M1023.8 1511.4h0M985.4 1482.6h0M989.3 1542.2h0M1020.9 1515.7h0M972.8 1560h0M1086.9 1507.2h0M939.7 1557h0M961.9 1529.9h0M937.2 1545h0M954.5 1559h0M963.3 1471h0M1052.7 1506.6h0M1031 1474.2h0M1062.6 1510.6h0M1042.1 1489.9h0M1102.7 1514.2h0M991.3 1494.6h0M990 1564h0M964.8 1556h0M1004.5 1501.9h0M970.7 1544.5h0M975.9 1584.9h0M977 1519.3h0M1041.2 1534.4h0M973.8 1563h0M1016.6 1545.6h0M971.7 1505.2h0M1023.1 1507.9h0M987.2 1532.1h0M992.7 1536.6h0M1035.3 1496.6h0M932.3 1587.1h0M1084.1 1499.3h0M1025.2 1538.3h0M979.1 1533.3h0M1046.8 1513.5h0M1054.7 1464.2h0M1092.1 1502.6h0M1034.4 1497.9h0M1043.8 1541.1h0M1019.5 1484.6h0" stroke="#050505" stroke-width="8.8" stroke-linecap="round"/>
<polyline points="926.4,1586.8 942.1,1572.8 953,1563.2 961.9,1555.4 969.6,1548.6 975.9,1543.3 982.2,1538.6 987.9,1534.3 992.7,1530.9 997.6,1527.7 1001.7,1524.9 1005.9,1522.4 1010.2,1520.1 1014.5,1518.2 1018.8,1516.5 1023.1,1515 1028.4,1513.4 1033.6,1511.8 1038.7,1509.9 1043.8,1507.8 1052.7,1504.9 1064.5,1501.5 1075.3,1497.8 1086.9,1493.7 1123.8,1480.8" fill="none" stroke="#ec2a2a" stroke-width="8.2" stroke-linecap="round" stroke-dasharray="0 12"/>
<path d="M1188.1 1432.7V1616.9H1398.9" fill="none" stroke="#3e3a38" stroke-width="2.8"/>
<path d="M1237.3 1616.9v10M1287.8 1616.9v10M1338.3 1616.9v10M1188.1 1571.5h-12M1188.1 1527.1h-12M1188.1 1482.7h-12M1188.1 1438.3h-12" stroke="#3e3a38" stroke-width="2.8"/>
<text x="1237.3" y="1651.9" text-anchor="middle" font-size="35.5" fill="#111">15</text>
<text x="1338.3" y="1651.9" text-anchor="middle" font-size="35.5" fill="#111">25</text>
<text transform="translate(1175.6,1569.4) rotate(-90)" text-anchor="middle" font-size="35.5" fill="#111">15</text>
<text transform="translate(1175.6,1482.7) rotate(-90)" text-anchor="middle" font-size="35.5" fill="#111">25</text>
<path d="M1195.9 1607h0M1387.8 1438.3h0M1204.6 1599.7h0M1209.1 1523.5h0M1287.2 1517.1h0M1292.6 1491.9h0M1304.7 1522.2h0M1248.1 1540h0M1218.6 1582.7h0M1346.9 1477.3h0M1378.9 1491.3h0M1309.5 1509.9h0M1298.1 1520.7h0M1265.6 1499.9h0M1220.7 1578.4h0M1262.9 1539.4h0M1362.3 1451.3h0M1255.4 1483.6h0M1257.8 1543.9h0M1260.2 1546.7h0M1323 1535.5h0M1287.9 1485.7h0M1313.4 1500.6h0M1298.9 1527.2h0M1244 1551h0M1322.1 1523.6h0M1295 1537.2h0M1251.3 1561h0M1286.4 1495.3h0M1271 1554h0M1266.9 1525.8h0M1303.7 1503.9h0M1291.1 1512.8h0M1341.1 1459.9h0M1343.1 1490.6h0M1307.6 1503.3h0M1278.3 1518.6h0M1312.4 1547.8h0M1243.2 1517.8h0M1241.6 1562h0M1245.7 1576.2h0M1335.4 1538.9h0M1233.2 1574h0M1252.9 1536.1h0M1299.6 1498.6h0M1271.6 1501.3h0M1240.8 1541.7h0M1279 1528.6h0M1350.8 1480.5h0M1282.5 1512.1h0M1242.4 1529.3h0M1321.1 1475.2h0M1231.2 1566h0M1294.2 1493.3h0M1240 1580.6h0M1222.8 1592.3h0M1295.7 1520h0M1364.2 1472.1h0M1293.4 1533.8h0M1274.3 1525h0M1329.6 1540.5h0M1301.2 1486.7h0M1358.5 1473.1h0M1325.8 1509.2h0M1316.3 1542.8h0M1275.6 1497.3h0M1288.7 1527.9h0M1366.2 1531.6h0M1281.7 1550h0M1252.1 1543.3h0M1320.1 1505.9h0M1302 1504.6h0M1262.2 1526.5h0M1300.4 1487.8h0M1317.2 1492.6h0M1270.3 1522.9h0M1246.5 1495.9h0M1339.2 1508.6h0M1310.5 1515h0M1324 1478.4h0M1273 1547.3h0M1269.6 1532.7h0M1308.5 1555h0M1224.9 1571.8h0M1352.7 1455.6h0M1345 1468.5h0M1257 1558h0M1267.6 1530.5h0M1277 1553h0M1268.9 1476.3h0M1272.3 1537.7h0M1235.3 1569.7h0M1266.3 1552h0M1244.8 1567h0M1277.7 1524.3h0M1248.9 1521.4h0M1259.4 1565h0M1260.9 1549h0M1360.4 1481.5h0M1250.5 1568h0M1333.5 1479.4h0M1305.6 1548.4h0M1273.6 1516.4h0M1383.4 1488.8h0M1254.6 1546.2h0M1280.3 1493.9h0M1306.6 1531h0M1285.6 1511.4h0M1331.5 1482.6h0M1258.6 1542.2h0M1314.3 1515.7h0M1261.6 1560h0M1354.6 1507.2h0M1229.1 1557h0M1253.7 1529.9h0M1247.3 1545h0M1237.4 1559h0M1348.8 1471h0M1315.3 1506.6h0M1291.8 1474.2h0M1290.3 1510.6h0M1318.2 1489.9h0M1319.2 1514.2h0M1311.4 1494.6h0M1264.9 1564h0M1239.2 1556h0M1279.7 1501.9h0M1275 1544.5h0M1256.2 1584.9h0M1263.6 1519.3h0M1297.3 1534.4h0M1227 1563h0M1264.2 1545.6h0M1249.7 1505.2h0M1296.5 1507.9h0M1268.3 1532.1h0M1289.5 1536.6h0M1276.3 1496.6h0M1213 1587.1h0M1374.4 1499.3h0M1284.8 1538.3h0M1284 1533.3h0M1281 1513.5h0M1327.7 1464.2h0M1337.3 1502.6h0M1369.9 1497.9h0M1356.5 1541.1h0M1302.8 1484.6h0" stroke="#050505" stroke-width="8.8" stroke-linecap="round"/>
<polyline points="1195.9,1600.8 1222.8,1574.5 1235.3,1562.4 1242.4,1555.6 1247.3,1551 1252.1,1546.4 1257,1541.9 1261.6,1537.8 1266.3,1533.9 1270.3,1530.7 1274.3,1527.7 1278.3,1524.7 1282.5,1522 1287.9,1518.9 1292.6,1516.6 1297.3,1514.4 1302.8,1511.9 1308.5,1509.1 1314.3,1505.8 1320.1,1502.5 1327.7,1498.8 1339.2,1494 1350.8,1488.8 1362.3,1483.3 1387.8,1471.6" fill="none" stroke="#ec2a2a" stroke-width="8.2" stroke-linecap="round" stroke-dasharray="0 12"/>
<path d="M1458 1432.7V1616.9H1667.5" fill="none" stroke="#3e3a38" stroke-width="2.8"/>
<path d="M1477.5 1616.9v10M1505.2 1616.9v10M1532.9 1616.9v10M1560.7 1616.9v10M1588.4 1616.9v10M1616.1 1616.9v10M1643.8 1616.9v10M1458 1571.5h-12M1458 1527.1h-12M1458 1482.7h-12M1458 1438.3h-12" stroke="#3e3a38" stroke-width="2.8"/>
<text x="1477.5" y="1651.9" text-anchor="middle" font-size="35.5" fill="#111">14</text>
<text x="1560.7" y="1651.9" text-anchor="middle" font-size="35.5" fill="#111">20</text>
<text x="1643.8" y="1651.9" text-anchor="middle" font-size="35.5" fill="#111">26</text>
<text transform="translate(1445.5,1569.4) rotate(-90)" text-anchor="middle" font-size="35.5" fill="#111">15</text>
<text transform="translate(1445.5,1482.7) rotate(-90)" text-anchor="middle" font-size="35.5" fill="#111">25</text>
<path d="M1463.6 1607h0M1656.3 1438.3h0M1467.9 1599.7h0M1575.9 1523.5h0M1606.9 1517.1h0M1567.2 1491.9h0M1577.2 1522.2h0M1549 1540h0M1476.5 1582.7h0M1594.9 1477.3h0M1598.9 1491.3h0M1596.3 1509.9h0M1572.8 1520.7h0M1574.7 1499.9h0M1491.8 1578.4h0M1513.9 1539.4h0M1586.9 1451.3h0M1547.4 1483.6h0M1520.7 1543.9h0M1536.7 1546.7h0M1609.6 1535.5h0M1548.2 1485.7h0M1597.6 1500.6h0M1593.6 1527.2h0M1524.1 1551h0M1631.7 1523.6h0M1550.7 1537.2h0M1543.3 1561h0M1592.3 1495.3h0M1553.1 1554h0M1531.7 1525.8h0M1539.2 1503.9h0M1555.6 1512.8h0M1604.2 1459.9h0M1625.4 1490.6h0M1544.1 1503.3h0M1517.3 1518.6h0M1569.7 1547.8h0M1529.2 1517.8h0M1513.1 1562h0M1506 1576.2h0M1576.5 1538.9h0M1493.8 1574h0M1518.2 1536.1h0M1585.6 1498.6h0M1554.7 1501.3h0M1522.4 1541.7h0M1540 1528.6h0M1558.8 1480.5h0M1583.4 1512.1h0M1526.6 1529.3h0M1619.1 1475.2h0M1497.9 1566h0M1565.4 1493.3h0M1499.9 1580.6h0M1485.1 1592.3h0M1569.1 1520h0M1584 1472.1h0M1530.9 1533.8h0M1564.1 1525h0M1582.7 1540.5h0M1577.8 1486.7h0M1651 1473.1h0M1572.2 1509.2h0M1584.6 1542.8h0M1567.8 1497.3h0M1571.6 1527.9h0M1622.2 1531.6h0M1564.7 1550h0M1545.7 1543.3h0M1635.3 1505.9h0M1580.9 1504.6h0M1537.6 1526.5h0M1608.2 1487.8h0M1581.5 1492.6h0M1519.8 1522.9h0M1563.5 1495.9h0M1582.1 1508.6h0M1574.1 1515h0M1640.5 1478.4h0M1535.1 1547.3h0M1546.6 1532.7h0M1559.7 1555h0M1480.8 1571.8h0M1645.8 1455.6h0M1600.2 1468.5h0M1523.2 1558h0M1541.7 1530.5h0M1533.4 1553h0M1568.5 1476.3h0M1556.4 1537.7h0M1502 1569.7h0M1525.8 1552h0M1495.8 1567h0M1561.6 1524.3h0M1512.2 1521.4h0M1514.8 1565h0M1544.9 1549h0M1612.8 1481.5h0M1538.4 1568h0M1570.3 1479.4h0M1566 1548.4h0M1521.5 1516.4h0M1605.6 1488.8h0M1516.5 1546.2h0M1575.3 1493.9h0M1558 1531h0M1551.5 1511.4h0M1615.9 1482.6h0M1504 1542.2h0M1579 1515.7h0M1535.9 1560h0M1628.5 1507.2h0M1489.7 1557h0M1549.8 1529.9h0M1511.4 1545h0M1508.1 1559h0M1571 1471h0M1561 1506.6h0M1560.4 1474.2h0M1575.9 1510.6h0M1589.6 1489.9h0M1579.6 1514.2h0M1580.3 1494.6h0M1519 1564h0M1527.5 1556h0M1562.9 1501.9h0M1524.9 1544.5h0M1510.1 1584.9h0M1553.9 1519.3h0M1578.4 1534.4h0M1487.7 1563h0M1530 1545.6h0M1552.3 1505.2h0M1540.8 1507.9h0M1542.5 1532.1h0M1532.6 1536.6h0M1534.2 1496.6h0M1472.2 1587.1h0M1601.6 1499.3h0M1557.2 1538.3h0M1528.3 1533.3h0M1515.6 1513.5h0M1590.9 1464.2h0M1588.3 1502.6h0M1602.9 1497.9h0M1562.3 1541.1h0M1566.6 1484.6h0" stroke="#050505" stroke-width="8.8" stroke-linecap="round"/>
<polyline points="1463.6,1596.3 1487.7,1574.5 1499.9,1563.6 1511.4,1553.5 1516.5,1549.2 1521.5,1545 1526.6,1540.9 1531.7,1536.8 1537.6,1532.5 1542.5,1529.3 1547.4,1526.2 1552.3,1523.1 1557.2,1520 1561.6,1517.1 1565.4,1514.7 1569.1,1512.3 1574.1,1509.3 1577.2,1507.5 1580.9,1505.4 1584.6,1503.6 1592.3,1500.9 1600.2,1498.4 1608.2,1494.7 1625.4,1486.2 1656.3,1472.1" fill="none" stroke="#ec2a2a" stroke-width="8.2" stroke-linecap="round" stroke-dasharray="0 12"/>
<path d="M109 1671V1848.4H315" fill="none" stroke="#3e3a38" stroke-width="2.8"/>
<path d="M124.9 1848.4v10M152.7 1848.4v10M180.5 1848.4v10M208.3 1848.4v10M236.1 1848.4v10M263.9 1848.4v10M291.7 1848.4v10M109 1825.6h-12M109 1800.2h-12M109 1774.9h-12M109 1749.6h-12M109 1724.3h-12M109 1699h-12M109 1673.7h-12" stroke="#3e3a38" stroke-width="2.8"/>
<text x="124.9" y="1883.4" text-anchor="middle" font-size="35.5" fill="#111">12</text>
<text x="208.3" y="1883.4" text-anchor="middle" font-size="35.5" fill="#111">18</text>
<text x="291.7" y="1883.4" text-anchor="middle" font-size="35.5" fill="#111">24</text>
<text transform="translate(96.5,1828) rotate(-90)" text-anchor="middle" font-size="35.5" fill="#111">14</text>
<text transform="translate(96.5,1757.6) rotate(-90)" text-anchor="middle" font-size="35.5" fill="#111">20</text>
<text transform="translate(96.5,1681.9) rotate(-90)" text-anchor="middle" font-size="35.5" fill="#111">26</text>
<path d="M116.6 1841.8h0M307 1677.4h0M119.8 1833.6h0M120 1780h0M243 1723.8h0M222.6 1748.4h0M217.1 1749.8h0M215.7 1767.3h0M126.4 1812.6h0M284.6 1719.2h0M279.1 1687.2h0M266 1736h0M208.8 1742.8h0M178.2 1761.6h0M136.4 1810.1h0M173.8 1787.1h0M291.1 1688.9h0M195.5 1764.8h0M185.2 1786.4h0M211.5 1769.2h0M241.9 1728.3h0M189.8 1752.6h0M197.5 1734.8h0M215 1743.3h0M179 1792.1h0M287.9 1710.5h0M210.2 1755.4h0M202.1 1772.6h0M262.8 1740.5h0M196.8 1776.2h0M208.1 1756.3h0M203.4 1754h0M233.6 1746h0M239.8 1697.4h0M230.9 1715.3h0M204.7 1751.6h0M186.7 1777h0M252.3 1747h0M182.8 1784.3h0M167.2 1793.7h0M181.3 1794.9h0M198.8 1733.7h0M168 1805.3h0M172.4 1781.4h0M229.1 1721.1h0M213.6 1750.2h0M180.5 1787.8h0M184.4 1757.8h0M249.5 1707.6h0M216.4 1750.7h0M165.8 1785h0M231.5 1705.6h0M146.6 1804h0M200.8 1745h0M156 1800.1h0M142.4 1815h0M227.3 1738.8h0M246.7 1714.4h0M182 1765.4h0M220.2 1753.5h0M245.3 1742.2h0M204 1747.4h0M258.1 1694h0M222 1732.7h0M219.6 1737.7h0M209.5 1752.1h0M218.4 1754.4h0M250.9 1695.7h0M191.4 1762.2h0M190.6 1779.7h0M294.4 1729.7h0M232.5 1739.4h0M192.9 1755.8h0M255.2 1716.3h0M234.6 1726.8h0M194.9 1770.9h0M200.1 1761h0M223.8 1722.4h0M237.7 1741.6h0M264.4 1699.4h0M189.1 1780.6h0M225 1762.9h0M196.2 1744.5h0M144.5 1807.6h0M228.5 1692.3h0M259.6 1690.6h0M185.9 1782.1h0M207.4 1766.7h0M225.6 1764.1h0M223.2 1741.1h0M219.1 1763.5h0M153.1 1801.4h0M188.3 1774.4h0M169.4 1796.2h0M193.6 1757.2h0M177.5 1785.7h0M179.7 1792.8h0M198.1 1778.8h0M261.2 1711.5h0M212.9 1773.5h0M236.7 1731.2h0M221.4 1739.9h0M175.3 1771.8h0M302.6 1685.4h0M202.7 1767.9h0M206 1756.8h0M244 1748.8h0M229.7 1754.9h0M269.1 1718.2h0M187.5 1783.6h0M240.9 1746.5h0M173.1 1788.6h0M230.3 1709.5h0M159.2 1802.7h0M170.2 1782.9h0M183.6 1791.4h0M171.6 1797.5h0M210.8 1735.4h0M224.4 1734.3h0M238.8 1737.1h0M214.3 1738.2h0M248.1 1717.2h0M235.7 1720.1h0M253.7 1725.3h0M148.8 1789.3h0M170.9 1790.7h0M206.7 1759.1h0M192.2 1775.3h0M168.7 1790h0M176.8 1768.6h0M226.7 1747.9h0M150.9 1798.8h0M162.5 1777.9h0M199.4 1766h0M256.6 1749.3h0M174.6 1770h0M194.2 1759.7h0M212.2 1745.6h0M123.1 1818.3h0M226.2 1713.4h0M176 1760.3h0M220.8 1758.4h0M205.3 1751.2h0M267.6 1701.5h0M298.2 1712.4h0M272.1 1703.5h0M217.8 1736.5h0M227.9 1743.9h0" stroke="#050505" stroke-width="8.8" stroke-linecap="round"/>
<polyline points="116.6,1828.9 142.4,1808.6 156,1797.8 168.7,1787.8 173.1,1784.3 177.5,1780.7 182,1777 186.7,1773.1 192.2,1768.4 196.2,1765 200.1,1761.6 204.7,1757.6 208.8,1754 212.9,1750.4 217.1,1747 220.8,1744.1 225,1740.9 228.5,1738.2 232.5,1735.2 238.8,1730.6 245.3,1726 253.7,1721.1 262.8,1715.8 279.1,1705.7 307,1688.8" fill="none" stroke="#ec2a2a" stroke-width="8.2" stroke-linecap="round" stroke-dasharray="0 12"/>
<path d="M378.8 1671V1848.4H589.6" fill="none" stroke="#3e3a38" stroke-width="2.8"/>
<path d="M418.4 1848.4v10M475.9 1848.4v10M533.4 1848.4v10M378.8 1825.6h-12M378.8 1800.2h-12M378.8 1774.9h-12M378.8 1749.6h-12M378.8 1724.3h-12M378.8 1699h-12M378.8 1673.7h-12" stroke="#3e3a38" stroke-width="2.8"/>
<text x="418.4" y="1883.4" text-anchor="middle" font-size="35.5" fill="#111">15</text>
<text x="533.4" y="1883.4" text-anchor="middle" font-size="35.5" fill="#111">25</text>
<text transform="translate(366.3,1828) rotate(-90)" text-anchor="middle" font-size="35.5" fill="#111">14</text>
<text transform="translate(366.3,1757.6) rotate(-90)" text-anchor="middle" font-size="35.5" fill="#111">20</text>
<text transform="translate(366.3,1681.9) rotate(-90)" text-anchor="middle" font-size="35.5" fill="#111">26</text>
<path d="M385.6 1841.8h0M578.2 1677.4h0M395 1833.6h0M385 1780h0M518.5 1723.8h0M500.8 1748.4h0M509.2 1749.8h0M435.5 1767.3h0M406 1812.6h0M493.6 1719.2h0M548.2 1687.2h0M479.7 1736h0M502 1742.8h0M453.5 1761.6h0M411 1810.1h0M432.8 1787.1h0M554.8 1688.9h0M456.6 1764.8h0M439.9 1786.4h0M446.2 1769.2h0M488.1 1728.3h0M462.1 1752.6h0M482.7 1734.8h0M496 1743.3h0M439 1792.1h0M537.1 1710.5h0M499.6 1755.4h0M464.5 1772.6h0M470.6 1740.5h0M463.7 1776.2h0M459 1756.3h0M473.6 1754h0M469.2 1746h0M520 1697.4h0M527.8 1715.3h0M497.2 1751.6h0M459.8 1777h0M510.4 1747h0M428.3 1784.3h0M425.6 1793.7h0M442.6 1794.9h0M543.8 1733.7h0M408.5 1805.3h0M444.4 1781.4h0M508 1721.1h0M505.6 1750.2h0M431.9 1787.8h0M489.3 1757.8h0M523.1 1707.6h0M490.5 1750.7h0M436.3 1785h0M526.2 1705.6h0M427.4 1804h0M489.9 1745h0M431 1800.1h0M418.5 1815h0M486.3 1738.8h0M541.6 1714.4h0M451.9 1765.4h0M477.9 1753.5h0M530.8 1742.2h0M468.5 1747.4h0M533.9 1694h0M524.7 1732.7h0M532.4 1737.7h0M482.1 1752.1h0M488.7 1754.4h0M559.5 1695.7h0M483.9 1762.2h0M430.1 1779.7h0M565.7 1729.7h0M474.2 1739.4h0M487.5 1755.8h0M485.7 1716.3h0M514 1726.8h0M451.1 1770.9h0M441.7 1761h0M557 1722.4h0M480.3 1741.6h0M506.8 1699.4h0M467.7 1780.6h0M458.2 1762.9h0M504.4 1744.5h0M413.5 1807.6h0M479.1 1692.3h0M572 1690.6h0M433.7 1782.1h0M471.2 1766.7h0M450.3 1764.1h0M481.5 1741.1h0M457.4 1763.5h0M426.5 1801.4h0M449.5 1774.4h0M440.8 1796.2h0M452.7 1757.2h0M423.5 1785.7h0M434.6 1792.8h0M438.1 1778.8h0M550.4 1711.5h0M476.7 1773.5h0M503.2 1731.2h0M516.9 1739.9h0M445.3 1771.8h0M552.6 1685.4h0M447.1 1767.9h0M471.8 1756.8h0M483.3 1748.8h0M460.6 1754.9h0M539.3 1718.2h0M437.2 1783.6h0M484.5 1746.5h0M466.9 1788.6h0M521.6 1709.5h0M416 1802.7h0M443.5 1782.9h0M461.4 1791.4h0M429.2 1797.5h0M512.8 1735.4h0M492.4 1734.3h0M491.7 1737.1h0M462.9 1738.2h0M480.9 1717.2h0M494.8 1720.1h0M515.4 1725.3h0M472.4 1789.3h0M454.2 1790.7h0M473 1759.1h0M470 1775.3h0M448.7 1790h0M466.1 1768.6h0M478.5 1747.9h0M421 1798.8h0M455.8 1777.9h0M455 1766h0M474.8 1749.3h0M447.9 1770h0M486.9 1759.7h0M476.1 1745.6h0M403.5 1818.3h0M546 1713.4h0M465.3 1760.3h0M491.1 1758.4h0M475.4 1751.2h0M529.3 1701.5h0M498.4 1712.4h0M535.5 1703.5h0M511.6 1736.5h0M485.1 1743.9h0" stroke="#050505" stroke-width="8.8" stroke-linecap="round"/>
<polyline points="385,1835.3 411,1809.9 425.6,1795.8 431,1790.7 436.3,1785.7 441.7,1781 447.1,1776.3 451.9,1772.3 457.4,1767.7 462.1,1763.8 466.9,1760.1 471.2,1756.9 474.8,1754.3 479.1,1751.6 482.7,1749.3 486.3,1746.9 490.5,1744.1 496,1740.2 503.2,1735.3 510.4,1730.5 518.5,1725.3 527.8,1719.3 537.1,1713 550.4,1704.2 578.2,1685.6" fill="none" stroke="#ec2a2a" stroke-width="8.2" stroke-linecap="round" stroke-dasharray="0 12"/>
<path d="M648 1671V1848.4H858.3" fill="none" stroke="#3e3a38" stroke-width="2.8"/>
<path d="M688 1848.4v10M748.8 1848.4v10M809.6 1848.4v10M648 1825.6h-12M648 1800.2h-12M648 1774.9h-12M648 1749.6h-12M648 1724.3h-12M648 1699h-12M648 1673.7h-12" stroke="#3e3a38" stroke-width="2.8"/>
<text x="688" y="1883.4" text-anchor="middle" font-size="35.5" fill="#111">15</text>
<text x="809.6" y="1883.4" text-anchor="middle" font-size="35.5" fill="#111">25</text>
<text transform="translate(635.5,1828) rotate(-90)" text-anchor="middle" font-size="35.5" fill="#111">14</text>
<text transform="translate(635.5,1757.6) rotate(-90)" text-anchor="middle" font-size="35.5" fill="#111">20</text>
<text transform="translate(635.5,1681.9) rotate(-90)" text-anchor="middle" font-size="35.5" fill="#111">26</text>
<path d="M655.2 1841.8h0M849.7 1677.4h0M657.5 1833.6h0M675.9 1780h0M780.2 1723.8h0M748.7 1748.4h0M759.2 1749.8h0M743 1767.3h0M666.7 1812.6h0M788.5 1719.2h0M815 1687.2h0M747.9 1736h0M783 1742.8h0M716.4 1761.6h0M664.4 1810.1h0M705 1787.1h0M838.2 1688.9h0M744.6 1764.8h0M671.3 1786.4h0M715.6 1769.2h0M761.6 1728.3h0M763.2 1752.6h0M722.2 1734.8h0M736.5 1743.3h0M693.3 1792.1h0M792.2 1710.5h0M757.6 1755.4h0M712.2 1772.6h0M769.1 1740.5h0M735.6 1776.2h0M786.7 1756.3h0M760 1754h0M796.5 1746h0M810.4 1697.4h0M784.8 1715.3h0M692 1751.6h0M682.8 1777h0M701.1 1747h0M686.9 1784.3h0M690.7 1793.7h0M685.6 1794.9h0M795 1733.7h0M695.9 1805.3h0M754.3 1781.4h0M826.6 1721.1h0M741.4 1750.2h0M720.6 1787.8h0M760.8 1757.8h0M819.6 1707.6h0M740.6 1750.7h0M739 1785h0M791.3 1705.6h0M703.7 1804h0M790.4 1745h0M669 1800.1h0M662.1 1815h0M758.4 1738.8h0M783.9 1714.4h0M717.2 1765.4h0M713.9 1753.5h0M734.8 1742.2h0M772.8 1747.4h0M728.9 1694h0M781.1 1732.7h0M767.3 1737.7h0M751.1 1752.1h0M723.1 1754.4h0M782.1 1695.7h0M749.5 1762.2h0M747.1 1779.7h0M723.9 1729.7h0M764.9 1739.4h0M808.1 1755.8h0M732.3 1716.3h0M793.2 1726.8h0M706.3 1770.9h0M729.8 1761h0M821.9 1722.4h0M771.9 1741.6h0M817.3 1699.4h0M699.8 1780.6h0M708.8 1762.9h0M789.5 1744.5h0M675.9 1807.6h0M787.6 1692.3h0M777.4 1690.6h0M718.1 1782.1h0M765.7 1766.7h0M725.6 1764.1h0M689.5 1741.1h0M778.4 1763.5h0M684.3 1801.4h0M746.3 1774.4h0M738.1 1796.2h0M730.6 1757.2h0M702.4 1785.7h0M680.5 1792.8h0M719.7 1778.8h0M724.7 1711.5h0M750.3 1773.5h0M756.8 1731.2h0M745.4 1739.9h0M678.2 1771.8h0M727.3 1685.4h0M773.7 1767.9h0M713 1756.8h0M776.5 1748.8h0M726.4 1754.9h0M743.8 1718.2h0M731.4 1783.6h0M742.2 1746.5h0M673.6 1788.6h0M775.6 1709.5h0M694.6 1802.7h0M737.3 1782.9h0M688.2 1791.4h0M710.1 1797.5h0M812.7 1735.4h0M771 1734.3h0M762.4 1737.1h0M785.8 1738.2h0M801.2 1717.2h0M728.1 1720.1h0M803.5 1725.3h0M698.5 1789.3h0M697.2 1790.7h0M707.5 1759.1h0M714.7 1775.3h0M721.4 1790h0M733.9 1768.6h0M755.2 1747.9h0M711.4 1798.8h0M718.9 1777.9h0M756 1766h0M739.8 1749.3h0M753.5 1770h0M733.1 1759.7h0M779.3 1745.6h0M659.8 1818.3h0M751.9 1713.4h0M764.1 1760.3h0M766.5 1758.4h0M752.7 1751.2h0M798.8 1701.5h0M770 1712.4h0M805.8 1703.5h0M768.2 1736.5h0M774.7 1743.9h0" stroke="#050505" stroke-width="8.8" stroke-linecap="round"/>
<polyline points="655.2,1815 669,1804.6 680.5,1796 689.5,1789.3 697.2,1783.5 705,1777.9 712.2,1773.5 717.2,1770.7 723.1,1767.4 728.1,1764.5 733.1,1761.7 738.1,1759.1 743,1756.6 747.9,1754.2 752.7,1751.7 757.6,1748.8 763.2,1745.3 768.2,1742.1 773.7,1738.4 779.3,1734.6 784.8,1731 790.4,1727.3 798.8,1721.5 812.7,1711.8 849.7,1685.9" fill="none" stroke="#ec2a2a" stroke-width="8.2" stroke-linecap="round" stroke-dasharray="0 12"/>
<path d="M920.6 1671V1848.4H1132.1" fill="none" stroke="#3e3a38" stroke-width="2.8"/>
<path d="M941.6 1848.4v10M989 1848.4v10M1036.5 1848.4v10M1083.9 1848.4v10M920.6 1825.6h-12M920.6 1800.2h-12M920.6 1774.9h-12M920.6 1749.6h-12M920.6 1724.3h-12M920.6 1699h-12M920.6 1673.7h-12" stroke="#3e3a38" stroke-width="2.8"/>
<text x="941.6" y="1883.4" text-anchor="middle" font-size="35.5" fill="#111">15</text>
<text x="1036.5" y="1883.4" text-anchor="middle" font-size="35.5" fill="#111">25</text>
<text transform="translate(908.1,1828) rotate(-90)" text-anchor="middle" font-size="35.5" fill="#111">14</text>
<text transform="translate(908.1,1757.6) rotate(-90)" text-anchor="middle" font-size="35.5" fill="#111">20</text>
<text transform="translate(908.1,1681.9) rotate(-90)" text-anchor="middle" font-size="35.5" fill="#111">26</text>
<path d="M926.4 1841.8h0M1116.4 1677.4h0M929.8 1833.6h0M1106.7 1780h0M1066.4 1723.8h0M993.4 1748.4h0M997.6 1749.8h0M1010.9 1767.3h0M950.1 1812.6h0M1009.4 1719.2h0M1097.4 1687.2h0M1031.8 1736h0M1028.4 1742.8h0M1003.8 1761.6h0M947 1810.1h0M990.7 1787.1h0M1012.3 1688.9h0M978 1764.8h0M998.3 1786.4h0M1007.3 1769.2h0M1058.6 1728.3h0M1029.3 1752.6h0M1080.6 1734.8h0M1036.1 1743.3h0M958.9 1792.1h0M1048.8 1710.5h0M996.2 1755.4h0M1002.4 1772.6h0M1030.1 1740.5h0M969.6 1776.2h0M1008.7 1756.3h0M1005.2 1754h0M1015.2 1746h0M1060.6 1697.4h0M1027.6 1715.3h0M1033.6 1751.6h0M987.9 1777h0M1032.7 1747h0M999 1784.3h0M984.3 1793.7h0M957.4 1794.9h0M1008 1733.7h0M942.1 1805.3h0M983.3 1781.4h0M1013 1721.1h0M1025.9 1750.2h0M986.4 1787.8h0M1003.1 1757.8h0M1071.7 1707.6h0M1013.7 1750.7h0M980.1 1785h0M1068.2 1705.6h0M944.6 1804h0M1018.8 1745h0M956 1800.1h0M934.7 1815h0M1056.7 1738.8h0M1040.4 1714.4h0M1037 1765.4h0M1042.9 1753.5h0M1005.9 1742.2h0M1021.6 1747.4h0M1082.4 1694h0M1026.7 1732.7h0M1038.7 1737.7h0M1000.3 1752.1h0M1020.2 1754.4h0M1075.3 1695.7h0M996.9 1762.2h0M994.8 1779.7h0M960.4 1729.7h0M1044.6 1739.4h0M981.2 1755.8h0M1078.8 1716.3h0M999.7 1726.8h0M992 1770.9h0M1017.3 1761h0M1006.6 1722.4h0M1024.5 1741.6h0M1045.5 1699.4h0M982.2 1780.6h0M1015.9 1762.9h0M1050.8 1744.5h0M966.3 1807.6h0M1109.1 1692.3h0M1070 1690.6h0M1001 1782.1h0M948.6 1766.7h0M1022.4 1764.1h0M1077 1741.1h0M968.6 1763.5h0M953 1801.4h0M988.6 1774.4h0M951.5 1796.2h0M1039.5 1757.2h0M1011.6 1785.7h0M974.9 1792.8h0M1010.2 1778.8h0M1073.5 1711.5h0M967.5 1773.5h0M1037.8 1731.2h0M1064.5 1739.9h0M1018 1771.8h0M1123.8 1685.4h0M1014.5 1767.9h0M994.1 1756.8h0M1001.7 1748.8h0M1023.8 1754.9h0M985.4 1718.2h0M989.3 1783.6h0M1020.9 1746.5h0M972.8 1788.6h0M1086.9 1709.5h0M939.7 1802.7h0M961.9 1782.9h0M937.2 1791.4h0M954.5 1797.5h0M963.3 1735.4h0M1052.7 1734.3h0M1031 1737.1h0M1062.6 1738.2h0M1042.1 1717.2h0M1102.7 1720.1h0M991.3 1725.3h0M990 1789.3h0M964.8 1790.7h0M1004.5 1759.1h0M970.7 1775.3h0M975.9 1790h0M977 1768.6h0M1041.2 1747.9h0M973.8 1798.8h0M1016.6 1777.9h0M971.7 1766h0M1023.1 1749.3h0M987.2 1770h0M992.7 1759.7h0M1035.3 1745.6h0M932.3 1818.3h0M1084.1 1713.4h0M1025.2 1760.3h0M979.1 1758.4h0M1046.8 1751.2h0M1054.7 1701.5h0M1092.1 1712.4h0M1034.4 1703.5h0M1043.8 1736.5h0M1019.5 1743.9h0" stroke="#050505" stroke-width="8.8" stroke-linecap="round"/>
<polyline points="926.4,1820 942.1,1807.1 953,1798.3 961.9,1791.2 969.6,1784.9 975.9,1780 982.2,1775.5 987.9,1771.5 992.7,1768.4 997.6,1765.4 1001.7,1762.8 1005.9,1760.1 1010.2,1757.2 1014.5,1754.4 1018.8,1751.6 1023.1,1748.9 1028.4,1745.5 1033.6,1742.1 1038.7,1738.6 1043.8,1735.1 1052.7,1729.3 1064.5,1721.8 1075.3,1714.8 1086.9,1707.2 1123.8,1683.3" fill="none" stroke="#ec2a2a" stroke-width="8.2" stroke-linecap="round" stroke-dasharray="0 12"/>
<path d="M1188.1 1671V1848.4H1398.9" fill="none" stroke="#3e3a38" stroke-width="2.8"/>
<path d="M1237.3 1848.4v10M1287.8 1848.4v10M1338.3 1848.4v10M1188.1 1825.6h-12M1188.1 1800.2h-12M1188.1 1774.9h-12M1188.1 1749.6h-12M1188.1 1724.3h-12M1188.1 1699h-12M1188.1 1673.7h-12" stroke="#3e3a38" stroke-width="2.8"/>
<text x="1237.3" y="1883.4" text-anchor="middle" font-size="35.5" fill="#111">15</text>
<text x="1338.3" y="1883.4" text-anchor="middle" font-size="35.5" fill="#111">25</text>
<text transform="translate(1175.6,1828) rotate(-90)" text-anchor="middle" font-size="35.5" fill="#111">14</text>
<text transform="translate(1175.6,1757.6) rotate(-90)" text-anchor="middle" font-size="35.5" fill="#111">20</text>
<text transform="translate(1175.6,1681.9) rotate(-90)" text-anchor="middle" font-size="35.5" fill="#111">26</text>
<path d="M1195.9 1841.8h0M1387.8 1677.4h0M1204.6 1833.6h0M1209.1 1780h0M1287.2 1723.8h0M1292.6 1748.4h0M1304.7 1749.8h0M1248.1 1767.3h0M1218.6 1812.6h0M1346.9 1719.2h0M1378.9 1687.2h0M1309.5 1736h0M1298.1 1742.8h0M1265.6 1761.6h0M1220.7 1810.1h0M1262.9 1787.1h0M1362.3 1688.9h0M1255.4 1764.8h0M1257.8 1786.4h0M1260.2 1769.2h0M1323 1728.3h0M1287.9 1752.6h0M1313.4 1734.8h0M1298.9 1743.3h0M1244 1792.1h0M1322.1 1710.5h0M1295 1755.4h0M1251.3 1772.6h0M1286.4 1740.5h0M1271 1776.2h0M1266.9 1756.3h0M1303.7 1754h0M1291.1 1746h0M1341.1 1697.4h0M1343.1 1715.3h0M1307.6 1751.6h0M1278.3 1777h0M1312.4 1747h0M1243.2 1784.3h0M1241.6 1793.7h0M1245.7 1794.9h0M1335.4 1733.7h0M1233.2 1805.3h0M1252.9 1781.4h0M1299.6 1721.1h0M1271.6 1750.2h0M1240.8 1787.8h0M1279 1757.8h0M1350.8 1707.6h0M1282.5 1750.7h0M1242.4 1785h0M1321.1 1705.6h0M1231.2 1804h0M1294.2 1745h0M1240 1800.1h0M1222.8 1815h0M1295.7 1738.8h0M1364.2 1714.4h0M1293.4 1765.4h0M1274.3 1753.5h0M1329.6 1742.2h0M1301.2 1747.4h0M1358.5 1694h0M1325.8 1732.7h0M1316.3 1737.7h0M1275.6 1752.1h0M1288.7 1754.4h0M1366.2 1695.7h0M1281.7 1762.2h0M1252.1 1779.7h0M1320.1 1729.7h0M1302 1739.4h0M1262.2 1755.8h0M1300.4 1716.3h0M1317.2 1726.8h0M1270.3 1770.9h0M1246.5 1761h0M1339.2 1722.4h0M1310.5 1741.6h0M1324 1699.4h0M1273 1780.6h0M1269.6 1762.9h0M1308.5 1744.5h0M1224.9 1807.6h0M1352.7 1692.3h0M1345 1690.6h0M1257 1782.1h0M1267.6 1766.7h0M1277 1764.1h0M1268.9 1741.1h0M1272.3 1763.5h0M1235.3 1801.4h0M1266.3 1774.4h0M1244.8 1796.2h0M1277.7 1757.2h0M1248.9 1785.7h0M1259.4 1792.8h0M1260.9 1778.8h0M1360.4 1711.5h0M1250.5 1773.5h0M1333.5 1731.2h0M1305.6 1739.9h0M1273.6 1771.8h0M1383.4 1685.4h0M1254.6 1767.9h0M1280.3 1756.8h0M1306.6 1748.8h0M1285.6 1754.9h0M1331.5 1718.2h0M1258.6 1783.6h0M1314.3 1746.5h0M1261.6 1788.6h0M1354.6 1709.5h0M1229.1 1802.7h0M1253.7 1782.9h0M1247.3 1791.4h0M1237.4 1797.5h0M1348.8 1735.4h0M1315.3 1734.3h0M1291.8 1737.1h0M1290.3 1738.2h0M1318.2 1717.2h0M1319.2 1720.1h0M1311.4 1725.3h0M1264.9 1789.3h0M1239.2 1790.7h0M1279.7 1759.1h0M1275 1775.3h0M1256.2 1790h0M1263.6 1768.6h0M1297.3 1747.9h0M1227 1798.8h0M1264.2 1777.9h0M1249.7 1766h0M1296.5 1749.3h0M1268.3 1770h0M1289.5 1759.7h0M1276.3 1745.6h0M1213 1818.3h0M1374.4 1713.4h0M1284.8 1760.3h0M1284 1758.4h0M1281 1751.2h0M1327.7 1701.5h0M1337.3 1712.4h0M1369.9 1703.5h0M1356.5 1736.5h0M1302.8 1743.9h0" stroke="#050505" stroke-width="8.8" stroke-linecap="round"/>
<polyline points="1195.9,1835.9 1222.8,1810 1235.3,1798.1 1242.4,1791.4 1247.3,1786.9 1252.1,1782.5 1257,1778.1 1261.6,1774.1 1266.3,1770.1 1270.3,1766.7 1274.3,1763.5 1278.3,1760.4 1282.5,1757.3 1287.9,1753.3 1292.6,1749.7 1297.3,1746.2 1302.8,1742.2 1308.5,1738.1 1314.3,1734.1 1320.1,1730.1 1327.7,1725.1 1339.2,1717.3 1350.8,1709.4 1362.3,1701.5 1387.8,1684.1" fill="none" stroke="#ec2a2a" stroke-width="8.2" stroke-linecap="round" stroke-dasharray="0 12"/>
<path d="M1458 1671V1848.4H1667.5" fill="none" stroke="#3e3a38" stroke-width="2.8"/>
<path d="M1477.5 1848.4v10M1505.2 1848.4v10M1532.9 1848.4v10M1560.7 1848.4v10M1588.4 1848.4v10M1616.1 1848.4v10M1643.8 1848.4v10M1458 1825.6h-12M1458 1800.2h-12M1458 1774.9h-12M1458 1749.6h-12M1458 1724.3h-12M1458 1699h-12M1458 1673.7h-12" stroke="#3e3a38" stroke-width="2.8"/>
<text x="1477.5" y="1883.4" text-anchor="middle" font-size="35.5" fill="#111">14</text>
<text x="1560.7" y="1883.4" text-anchor="middle" font-size="35.5" fill="#111">20</text>
<text x="1643.8" y="1883.4" text-anchor="middle" font-size="35.5" fill="#111">26</text>
<text transform="translate(1445.5,1828) rotate(-90)" text-anchor="middle" font-size="35.5" fill="#111">14</text>
<text transform="translate(1445.5,1757.6) rotate(-90)" text-anchor="middle" font-size="35.5" fill="#111">20</text>
<text transform="translate(1445.5,1681.9) rotate(-90)" text-anchor="middle" font-size="35.5" fill="#111">26</text>
<path d="M1463.6 1841.8h0M1656.3 1677.4h0M1467.9 1833.6h0M1575.9 1780h0M1606.9 1723.8h0M1567.2 1748.4h0M1577.2 1749.8h0M1549 1767.3h0M1476.5 1812.6h0M1594.9 1719.2h0M1598.9 1687.2h0M1596.3 1736h0M1572.8 1742.8h0M1574.7 1761.6h0M1491.8 1810.1h0M1513.9 1787.1h0M1586.9 1688.9h0M1547.4 1764.8h0M1520.7 1786.4h0M1536.7 1769.2h0M1609.6 1728.3h0M1548.2 1752.6h0M1597.6 1734.8h0M1593.6 1743.3h0M1524.1 1792.1h0M1631.7 1710.5h0M1550.7 1755.4h0M1543.3 1772.6h0M1592.3 1740.5h0M1553.1 1776.2h0M1531.7 1756.3h0M1539.2 1754h0M1555.6 1746h0M1604.2 1697.4h0M1625.4 1715.3h0M1544.1 1751.6h0M1517.3 1777h0M1569.7 1747h0M1529.2 1784.3h0M1513.1 1793.7h0M1506 1794.9h0M1576.5 1733.7h0M1493.8 1805.3h0M1518.2 1781.4h0M1585.6 1721.1h0M1554.7 1750.2h0M1522.4 1787.8h0M1540 1757.8h0M1558.8 1707.6h0M1583.4 1750.7h0M1526.6 1785h0M1619.1 1705.6h0M1497.9 1804h0M1565.4 1745h0M1499.9 1800.1h0M1485.1 1815h0M1569.1 1738.8h0M1584 1714.4h0M1530.9 1765.4h0M1564.1 1753.5h0M1582.7 1742.2h0M1577.8 1747.4h0M1651 1694h0M1572.2 1732.7h0M1584.6 1737.7h0M1567.8 1752.1h0M1571.6 1754.4h0M1622.2 1695.7h0M1564.7 1762.2h0M1545.7 1779.7h0M1635.3 1729.7h0M1580.9 1739.4h0M1537.6 1755.8h0M1608.2 1716.3h0M1581.5 1726.8h0M1519.8 1770.9h0M1563.5 1761h0M1582.1 1722.4h0M1574.1 1741.6h0M1640.5 1699.4h0M1535.1 1780.6h0M1546.6 1762.9h0M1559.7 1744.5h0M1480.8 1807.6h0M1645.8 1692.3h0M1600.2 1690.6h0M1523.2 1782.1h0M1541.7 1766.7h0M1533.4 1764.1h0M1568.5 1741.1h0M1556.4 1763.5h0M1502 1801.4h0M1525.8 1774.4h0M1495.8 1796.2h0M1561.6 1757.2h0M1512.2 1785.7h0M1514.8 1792.8h0M1544.9 1778.8h0M1612.8 1711.5h0M1538.4 1773.5h0M1570.3 1731.2h0M1566 1739.9h0M1521.5 1771.8h0M1605.6 1685.4h0M1516.5 1767.9h0M1575.3 1756.8h0M1558 1748.8h0M1551.5 1754.9h0M1615.9 1718.2h0M1504 1783.6h0M1579 1746.5h0M1535.9 1788.6h0M1628.5 1709.5h0M1489.7 1802.7h0M1549.8 1782.9h0M1511.4 1791.4h0M1508.1 1797.5h0M1571 1735.4h0M1561 1734.3h0M1560.4 1737.1h0M1575.9 1738.2h0M1589.6 1717.2h0M1579.6 1720.1h0M1580.3 1725.3h0M1519 1789.3h0M1527.5 1790.7h0M1562.9 1759.1h0M1524.9 1775.3h0M1510.1 1790h0M1553.9 1768.6h0M1578.4 1747.9h0M1487.7 1798.8h0M1530 1777.9h0M1552.3 1766h0M1540.8 1749.3h0M1542.5 1770h0M1532.6 1759.7h0M1534.2 1745.6h0M1472.2 1818.3h0M1601.6 1713.4h0M1557.2 1760.3h0M1528.3 1758.4h0M1515.6 1751.2h0M1590.9 1701.5h0M1588.3 1712.4h0M1602.9 1703.5h0M1562.3 1736.5h0M1566.6 1743.9h0" stroke="#050505" stroke-width="8.8" stroke-linecap="round"/>
<polyline points="1463.6,1828.6 1487.7,1808.4 1499.9,1798.2 1511.4,1788.7 1516.5,1784.6 1521.5,1780.7 1526.6,1776.8 1531.7,1773 1537.6,1768.6 1542.5,1764.9 1547.4,1761.4 1552.3,1757.8 1557.2,1754.2 1561.6,1750.9 1565.4,1748 1569.1,1744.9 1574.1,1740.6 1577.2,1738 1580.9,1735 1584.6,1732.1 1592.3,1726.9 1600.2,1722 1608.2,1717 1625.4,1705.9 1656.3,1686.3" fill="none" stroke="#ec2a2a" stroke-width="8.2" stroke-linecap="round" stroke-dasharray="0 12"/>
<path d="M1724.8 1671V1848.4H1935.6" fill="none" stroke="#3e3a38" stroke-width="2.8"/>
<path d="M1771.3 1848.4v10M1822.8 1848.4v10M1874.3 1848.4v10M1925.8 1848.4v10M1724.8 1825.6h-12M1724.8 1800.2h-12M1724.8 1774.9h-12M1724.8 1749.6h-12M1724.8 1724.3h-12M1724.8 1699h-12M1724.8 1673.7h-12" stroke="#3e3a38" stroke-width="2.8"/>
<text x="1771.3" y="1883.4" text-anchor="middle" font-size="35.5" fill="#111">15</text>
<text x="1874.3" y="1883.4" text-anchor="middle" font-size="35.5" fill="#111">25</text>
<text transform="translate(1712.3,1828) rotate(-90)" text-anchor="middle" font-size="35.5" fill="#111">14</text>
<text transform="translate(1712.3,1757.6) rotate(-90)" text-anchor="middle" font-size="35.5" fill="#111">20</text>
<text transform="translate(1712.3,1681.9) rotate(-90)" text-anchor="middle" font-size="35.5" fill="#111">26</text>
<path d="M1730.1 1841.8h0M1925.8 1677.4h0M1738.6 1833.6h0M1826.9 1780h0M1834.3 1723.8h0M1863.5 1748.4h0M1828.5 1749.8h0M1807.8 1767.3h0M1758.2 1812.6h0M1880.5 1719.2h0M1864.3 1687.2h0M1842.7 1736h0M1830.2 1742.8h0M1854.3 1761.6h0M1763.3 1810.1h0M1808.5 1787.1h0M1910.7 1688.9h0M1873.2 1764.8h0M1803.3 1786.4h0M1800 1769.2h0M1813 1728.3h0M1870.8 1752.6h0M1853.5 1734.8h0M1822.7 1743.3h0M1795 1792.1h0M1826.8 1710.5h0M1811.1 1755.4h0M1783.4 1772.6h0M1859.7 1740.5h0M1791.5 1776.2h0M1824.3 1756.3h0M1849.7 1754h0M1839.3 1746h0M1900.7 1697.4h0M1865.1 1715.3h0M1850.4 1751.6h0M1832.7 1777h0M1798.7 1747h0M1833.5 1784.3h0M1782.3 1793.7h0M1765.8 1794.9h0M1809.1 1733.7h0M1768.3 1805.3h0M1812.4 1781.4h0M1855.8 1721.1h0M1852.7 1750.2h0M1805.9 1787.8h0M1821 1757.8h0M1876.9 1707.6h0M1840.2 1750.7h0M1820.2 1785h0M1882.9 1705.6h0M1777.6 1804h0M1862 1745h0M1760.7 1800.1h0M1747.1 1815h0M1831 1738.8h0M1886.6 1714.4h0M1815 1765.4h0M1825.2 1753.5h0M1807.2 1742.2h0M1869.6 1747.4h0M1885.4 1694h0M1843.5 1732.7h0M1804.6 1737.7h0M1857.4 1752.1h0M1821.8 1754.4h0M1817.6 1695.7h0M1796.1 1762.2h0M1803.9 1779.7h0M1847.3 1729.7h0M1848.9 1739.4h0M1823.5 1755.8h0M1868.4 1716.3h0M1862.8 1726.8h0M1827.7 1770.9h0M1858.9 1761h0M1844.3 1722.4h0M1836.8 1741.6h0M1879.3 1699.4h0M1799.4 1780.6h0M1816.3 1762.9h0M1790.4 1744.5h0M1770.9 1807.6h0M1905.7 1692.3h0M1890.8 1690.6h0M1786.9 1782.1h0M1818.9 1766.7h0M1792.7 1764.1h0M1881.7 1741.1h0M1810.4 1763.5h0M1773.4 1801.4h0M1793.8 1774.4h0M1776.5 1796.2h0M1826 1757.2h0M1829.3 1785.7h0M1778.8 1792.8h0M1797.3 1778.8h0M1875.6 1711.5h0M1775.3 1773.5h0M1878.1 1731.2h0M1798.1 1739.9h0M1835.2 1771.8h0M1867.1 1685.4h0M1800.7 1767.9h0M1861.2 1756.8h0M1818.2 1748.8h0M1841 1754.9h0M1874.4 1718.2h0M1805.2 1783.6h0M1836 1746.5h0M1784.6 1788.6h0M1845.8 1709.5h0M1788.1 1802.7h0M1819.5 1782.9h0M1802 1791.4h0M1785.7 1797.5h0M1887.8 1735.4h0M1846.6 1734.3h0M1884.1 1737.1h0M1841.9 1738.2h0M1865.9 1717.2h0M1837.7 1720.1h0M1860.4 1725.3h0M1780 1789.3h0M1789.2 1790.7h0M1852 1759.1h0M1802.6 1775.3h0M1755.7 1790h0M1831.8 1768.6h0M1814.3 1747.9h0M1781.1 1798.8h0M1801.3 1777.9h0M1848.1 1766h0M1845 1749.3h0M1816.9 1770h0M1811.7 1759.7h0M1858.1 1745.6h0M1753.2 1818.3h0M1855.1 1713.4h0M1809.8 1760.3h0M1815.6 1758.4h0M1838.5 1751.2h0M1895.8 1701.5h0M1851.2 1712.4h0M1856.6 1703.5h0M1806.5 1736.5h0M1872 1743.9h0" stroke="#050505" stroke-width="8.8" stroke-linecap="round"/>
<polyline points="1730.1,1834.2 1760.7,1807.1 1775.3,1794.3 1782.3,1788.2 1789.2,1782.5 1796.1,1777 1800.7,1773.4 1804.6,1770.4 1809.1,1767 1813,1764.1 1817.6,1761 1821.8,1758.2 1826.8,1755 1831,1752.5 1836,1749.4 1841,1746.4 1846.6,1742.9 1851.2,1739.8 1855.8,1736.5 1860.4,1733.2 1865.1,1729.7 1872,1724.2 1879.3,1718.4 1886.6,1712.5 1925.8,1680.2" fill="none" stroke="#ec2a2a" stroke-width="8.2" stroke-linecap="round" stroke-dasharray="0 12"/>
<line x1="65.7" y1="1" x2="65.7" y2="1890.4" stroke="#0a0505" stroke-width="6"/>
<line x1="334.9" y1="1" x2="334.9" y2="1890.4" stroke="#0a0505" stroke-width="6"/>
<line x1="604" y1="1" x2="604" y2="1890.4" stroke="#0a0505" stroke-width="6"/>
<line x1="873.2" y1="1" x2="873.2" y2="1890.4" stroke="#0a0505" stroke-width="6"/>
<line x1="1142.3" y1="1" x2="1142.3" y2="1890.4" stroke="#0a0505" stroke-width="6"/>
<line x1="1411.5" y1="1" x2="1411.5" y2="1890.4" stroke="#0a0505" stroke-width="6"/>
<line x1="1680.7" y1="1" x2="1680.7" y2="1890.4" stroke="#0a0505" stroke-width="6"/>
<line x1="1949.8" y1="1" x2="1949.8" y2="1890.4" stroke="#0a0505" stroke-width="6"/>
<line x1="2219" y1="1" x2="2219" y2="1890.4" stroke="#0a0505" stroke-width="6"/>
<line x1="63.2" y1="3.5" x2="2221.5" y2="3.5" stroke="#0a0505" stroke-width="5.7"/>
<line x1="63.2" y1="239.1" x2="2221.5" y2="239.1" stroke="#0a0505" stroke-width="5.7"/>
<line x1="63.2" y1="474.6" x2="2221.5" y2="474.6" stroke="#0a0505" stroke-width="5.7"/>
<line x1="63.2" y1="710.2" x2="2221.5" y2="710.2" stroke="#0a0505" stroke-width="5.7"/>
<line x1="63.2" y1="945.7" x2="2221.5" y2="945.7" stroke="#0a0505" stroke-width="5.7"/>
<line x1="63.2" y1="1181.2" x2="2221.5" y2="1181.2" stroke="#0a0505" stroke-width="5.7"/>
<line x1="63.2" y1="1416.8" x2="2221.5" y2="1416.8" stroke="#0a0505" stroke-width="5.7"/>
<line x1="63.2" y1="1652.4" x2="2221.5" y2="1652.4" stroke="#0a0505" stroke-width="5.7"/>
<line x1="63.2" y1="1887.9" x2="2221.5" y2="1887.9" stroke="#0a0505" stroke-width="5.7"/>
<rect x="62.9" y="0" width="2158.9" height="6.4" fill="#120c08"/>
<rect x="62.9" y="0" width="2158.9" height="2.4" fill="#251f1f"/>
<path d="M60 223.4C62.2 221.9 67.6 217.8 73.4 214C79.2 210.3 88.1 204.7 94.8 200.7C101.5 196.7 107.7 194.9 113.5 190C119.3 185.1 125.1 178.8 129.6 171.2C134 163.7 137.1 154.3 140.3 144.5C143.4 134.7 145.6 123.1 148.3 112.4C151 101.7 153.2 90.1 156.3 80.3C159.4 70.5 163.5 60 167 53.5C170.6 47 174.2 43.7 177.7 41.5C181.3 39.2 184.9 40.4 188.4 40.1C192 39.9 195.6 40.8 199.1 40.1C202.7 39.5 206.7 35.7 209.8 36.1C213 36.6 215.2 38.6 217.9 42.8C220.5 47 222.8 53.1 225.9 61.5C229 70 233 83.8 236.6 93.6C240.2 103.5 243.7 112.4 247.3 120.4C250.9 128.4 254.4 135.6 258 141.8C261.6 148 264.7 152.1 268.7 157.9C272.7 163.7 277.6 171.2 282.1 176.6C286.5 181.9 291 186.2 295.5 190C299.9 193.8 304.4 195.3 308.8 199.3C313.3 203.3 317.7 209.8 322.2 214C326.7 218.3 331.1 222.3 335.6 224.7C340 227.2 344.7 228 349 228.8C353.2 229.6 359 229.4 361 229.6" fill="none" stroke="#3bab34" stroke-width="4.6" stroke-linecap="round" stroke-linejoin="round"/>
<path d="M296.9 464.6C300 464.2 309.8 463.3 315.8 462C321.8 460.7 327.3 458.9 333 456.9C338.7 454.9 345 452 350.2 450C355.4 448 359.9 447.7 364 444.8C368 442 371.1 437.7 374.3 432.8C377.4 427.9 380 421.9 382.9 415.6C385.7 409.3 388.6 402.1 391.5 395C394.3 387.8 397.2 380.3 400.1 372.6C402.9 364.9 405.8 355.7 408.7 348.5C411.5 341.4 414.4 335.3 417.3 329.6C420.1 323.9 422.7 318.7 425.9 314.1C429 309.5 432.8 305.5 436.2 302.1C439.6 298.6 443.4 296.6 446.5 293.5C449.7 290.3 452.3 287.2 455.1 283.2C458 279.1 460.9 272.8 463.7 269.4C466.6 266 469.7 262.5 472.3 262.5C474.9 262.5 476.9 266 479.2 269.4C481.5 272.8 483.8 277.4 486.1 283.2C488.4 288.9 490.7 295.8 493 303.8C495.3 311.8 497.5 322.1 499.8 331.3C502.1 340.5 504.4 351.7 506.7 358.8C509 366 511.3 370.6 513.6 374.3C515.9 378 517.6 379.9 520.5 381.2C523.3 382.5 527.9 381.5 530.8 382.1C533.7 382.6 534.8 382.2 537.7 384.6C540.5 387.1 544.6 392.1 548 396.7C551.4 401.3 554.9 407 558.3 412.2C561.8 417.3 565.2 422.8 568.6 427.6C572.1 432.5 575.5 437.4 579 441.4C582.4 445.4 585.8 448.6 589.3 451.7C592.7 454.9 596.2 458.3 599.6 460.3C603 462.3 605 462.9 609.9 463.8C614.8 464.6 625.7 465.2 628.8 465.5" fill="none" stroke="#3bab34" stroke-width="4.6" stroke-linecap="round" stroke-linejoin="round"/>
<path d="M577.2 700.5C580.1 700.2 588.7 699.9 594.4 698.8C600.1 697.6 606.4 695.9 611.6 693.6C616.8 691.3 621.3 688.4 625.4 685C629.4 681.6 632.2 677.8 635.7 673C639.1 668.1 642.6 662.4 646 655.8C649.4 649.2 653.2 640.9 656.3 633.4C659.5 625.9 662.1 618.8 664.9 611C667.8 603.3 670.7 594.4 673.5 587C676.4 579.5 679.3 573.2 682.1 566.3C685 559.4 687.9 552.3 690.7 545.7C693.6 539.1 696.5 532.8 699.3 526.8C702.2 520.7 705.1 513.9 707.9 509.6C710.8 505.3 713.7 503.3 716.5 501C719.4 498.7 722 497.8 725.1 495.8C728.3 493.8 732 491.2 735.4 488.9C738.9 486.6 742.9 482.6 745.8 482C748.6 481.5 750.6 483.2 752.6 485.5C754.6 487.8 756.1 491.2 757.8 495.8C759.5 500.4 761.2 507 763 513C764.7 519 766.4 525.6 768.1 531.9C769.8 538.2 771.6 545.1 773.3 550.8C775 556.6 776.7 561.4 778.4 566.3C780.2 571.2 781.6 574.9 783.6 580.1C785.6 585.2 788.2 591.3 790.5 597.3C792.8 603.3 795.1 610.2 797.4 616.2C799.7 622.2 801.9 627.4 804.2 633.4C806.5 639.4 808.8 646.6 811.1 652.3C813.4 658.1 815.4 663.2 818 667.8C820.6 672.4 823.7 676.4 826.6 679.8C829.5 683.3 832 686.1 835.2 688.4C838.4 690.7 842.1 692.2 845.5 693.6C849 695 851.8 696.2 855.8 697C859.9 697.9 864.4 698.2 869.6 698.8C874.8 699.3 883.9 700.2 886.8 700.5" fill="none" stroke="#3bab34" stroke-width="4.6" stroke-linecap="round" stroke-linejoin="round"/>
<path d="M847.2 937.2C850.1 936.9 859.2 936.6 864.4 935.5C869.6 934.3 873.9 932.6 878.2 930.3C882.5 928 886.8 924.9 890.2 921.7C893.6 918.6 895.9 915.4 898.8 911.4C901.7 907.4 904.5 902.8 907.4 897.6C910.3 892.5 913.1 886.2 916 880.4C918.9 874.7 921.7 869 924.6 863.2C927.5 857.5 930.3 851.8 933.2 846C936.1 840.3 938.9 835.7 941.8 828.8C944.7 822 947.8 812.8 950.4 804.8C953 796.7 955 788.7 957.3 780.7C959.6 772.7 961.9 764.1 964.2 756.6C966.5 749.1 968.7 740.8 971 736C973.3 731.1 975.6 728.9 977.9 727.4C980.2 725.8 982.2 725.6 984.8 726.5C987.4 727.4 990.5 729.8 993.4 732.5C996.3 735.2 999.1 738.5 1002 742.8C1004.9 747.1 1007.7 753.2 1010.6 758.3C1013.5 763.5 1016.3 767.8 1019.2 773.8C1022.1 779.8 1024.9 787.3 1027.8 794.4C1030.7 801.6 1033.5 809.6 1036.4 816.8C1039.3 824 1042.1 831.4 1045 837.4C1047.9 843.5 1050.7 848.3 1053.6 852.9C1056.5 857.5 1059.3 860.9 1062.2 865C1065.1 869 1067.9 873 1070.8 877C1073.7 881 1076.5 885.3 1079.4 889C1082.3 892.8 1085.1 895.9 1088 899.4C1090.9 902.8 1093.7 906.5 1096.6 909.7C1099.5 912.8 1102.3 915.4 1105.2 918.3C1108.1 921.1 1110.9 924.6 1113.8 926.9C1116.7 929.2 1119.2 930.7 1122.4 932C1125.6 933.3 1129.3 933.9 1132.7 934.6C1136.2 935.3 1138.7 935.9 1143 936.3C1147.3 936.8 1155.9 937.1 1158.5 937.2" fill="none" stroke="#3bab34" stroke-width="4.6" stroke-linecap="round" stroke-linejoin="round"/>
<path d="M1118.9 1172.2C1121.5 1171.9 1129 1171.6 1134.4 1170.5C1139.8 1169.3 1145.9 1167.3 1151.6 1165.3C1157.3 1163.3 1163.6 1160.7 1168.8 1158.4C1174 1156.1 1178.8 1154.1 1182.6 1151.6C1186.3 1149 1188.6 1146.7 1191.2 1143C1193.7 1139.2 1196 1134.4 1198 1129.2C1200 1124 1201.5 1118.3 1203.2 1112C1204.9 1105.7 1206.6 1098.2 1208.4 1091.4C1210.1 1084.5 1211.8 1077.6 1213.5 1070.7C1215.2 1063.8 1217 1057 1218.7 1050.1C1220.4 1043.2 1221.8 1036.3 1223.8 1029.4C1225.8 1022.6 1228.4 1015.1 1230.7 1008.8C1233 1002.5 1235.3 996.8 1237.6 991.6C1239.9 986.4 1242.2 981.9 1244.5 977.8C1246.8 973.8 1249.1 970.4 1251.4 967.5C1253.7 964.7 1255.9 962.1 1258.2 960.6C1260.5 959.2 1262.8 958.3 1265.1 958.9C1267.4 959.5 1269.7 961.5 1272 964.1C1274.3 966.7 1276.6 970.4 1278.9 974.4C1281.2 978.4 1283.5 983 1285.8 988.2C1288.1 993.3 1290.3 999.6 1292.6 1005.4C1294.9 1011.1 1297.2 1016.8 1299.5 1022.6C1301.8 1028.3 1304.1 1034 1306.4 1039.8C1308.7 1045.5 1311 1051.5 1313.3 1057C1315.6 1062.4 1317.9 1068.1 1320.2 1072.4C1322.5 1076.7 1324.5 1079.6 1327 1082.8C1329.6 1085.9 1332.8 1088.8 1335.6 1091.4C1338.5 1093.9 1341.7 1095.7 1344.2 1098.2C1346.8 1100.8 1348.8 1103.7 1351.1 1106.8C1353.4 1110 1355.7 1113.4 1358 1117.2C1360.3 1120.9 1362.6 1125.2 1364.9 1129.2C1367.2 1133.2 1369.5 1137.5 1371.8 1141.2C1374.1 1145 1376.3 1148.4 1378.6 1151.6C1380.9 1154.7 1383.2 1157.9 1385.5 1160.2C1387.8 1162.5 1389.5 1163.7 1392.4 1165.3C1395.3 1166.9 1399.3 1168.6 1402.7 1169.6C1406.2 1170.6 1409.3 1170.9 1413 1171.3C1416.8 1171.8 1423.1 1172.1 1425.1 1172.2" fill="none" stroke="#3bab34" stroke-width="4.6" stroke-linecap="round" stroke-linejoin="round"/>
<path d="M1386.3 1408.1C1389.3 1407.6 1399.1 1407.1 1404.4 1405.5C1409.7 1403.9 1413.9 1401.8 1418.2 1398.6C1422.5 1395.4 1426.2 1391.4 1430.2 1386.6C1434.2 1381.7 1438.2 1375.1 1442.2 1369.4C1446.3 1363.6 1450.3 1358.2 1454.3 1352.2C1458.3 1346.1 1462.6 1339.3 1466.3 1333.2C1470 1327.2 1473.5 1322.3 1476.6 1316C1479.8 1309.7 1482.4 1302 1485.2 1295.4C1488.1 1288.8 1490.7 1282.2 1493.8 1276.5C1497 1270.7 1500.4 1265.6 1504.2 1261C1507.9 1256.4 1512.2 1253 1516.2 1249C1520.2 1244.9 1524.5 1240.9 1528.2 1236.9C1532 1232.9 1535.1 1228.9 1538.6 1224.9C1542 1220.9 1546 1215 1548.9 1212.8C1551.7 1210.7 1553.2 1211.1 1555.8 1212C1558.3 1212.8 1561.8 1215 1564.4 1218C1566.9 1221 1568.9 1224.9 1571.2 1230C1573.5 1235.2 1575.5 1242.1 1578.1 1249C1580.7 1255.8 1583.9 1263.9 1586.7 1271.3C1589.6 1278.8 1592.5 1286.8 1595.3 1293.7C1598.2 1300.6 1600.8 1306 1603.9 1312.6C1607.1 1319.2 1610.8 1327.2 1614.2 1333.2C1617.7 1339.3 1621.1 1344.1 1624.6 1348.7C1628 1353.3 1631.4 1356.7 1634.9 1360.8C1638.3 1364.8 1641.8 1368.8 1645.2 1372.8C1648.6 1376.8 1652.1 1380.8 1655.5 1384.8C1659 1388.9 1662.4 1393.7 1665.8 1396.9C1669.3 1400 1672.1 1402 1676.2 1403.8C1680.2 1405.5 1684.8 1406.6 1689.9 1407.2C1695.1 1407.8 1704.3 1407.5 1707.1 1407.5" fill="none" stroke="#3bab34" stroke-width="4.6" stroke-linecap="round" stroke-linejoin="round"/>
<path d="M1658.9 1643.1C1661.5 1642.9 1669 1643.1 1674.4 1642.2C1679.8 1641.3 1685.9 1639.3 1691.6 1637.9C1697.3 1636.5 1703.9 1635.2 1708.8 1633.6C1713.7 1632 1717.1 1630.7 1720.8 1628.4C1724.6 1626.1 1728 1623.3 1731.2 1619.8C1734.3 1616.4 1737.2 1612.4 1739.8 1607.8C1742.3 1603.2 1744.3 1597.8 1746.6 1592.3C1748.9 1586.9 1751.2 1580.9 1753.5 1575.1C1755.8 1569.4 1758.1 1563.9 1760.4 1557.9C1762.7 1551.9 1765 1545.3 1767.3 1539C1769.6 1532.7 1771.9 1526.1 1774.2 1520.1C1776.5 1514.1 1778.7 1509.2 1781 1502.9C1783.3 1496.6 1785.6 1489.7 1787.9 1482.2C1790.2 1474.8 1792.8 1464.5 1794.8 1458.2C1796.8 1451.9 1798.2 1447.1 1800 1444.4C1801.7 1441.7 1803.1 1441.2 1805.1 1441.8C1807.1 1442.4 1809.7 1445.4 1812 1447.8C1814.3 1450.3 1816.6 1454.1 1818.9 1456.4C1821.2 1458.7 1823.5 1460.7 1825.8 1461.6C1828.1 1462.5 1830.3 1462 1832.6 1461.6C1834.9 1461.2 1837.2 1459.3 1839.5 1459C1841.8 1458.7 1844.1 1458.6 1846.4 1459.9C1848.7 1461.2 1851 1463 1853.3 1466.8C1855.6 1470.5 1857.9 1476.8 1860.2 1482.2C1862.5 1487.7 1864.7 1493.7 1867 1499.4C1869.3 1505.2 1871.6 1510.9 1873.9 1516.6C1876.2 1522.4 1878.5 1527.8 1880.8 1533.8C1883.1 1539.9 1885.4 1546.2 1887.7 1552.8C1890 1559.4 1892.3 1567.1 1894.6 1573.4C1896.9 1579.7 1899.1 1585.2 1901.4 1590.6C1903.7 1596 1906 1601.5 1908.3 1606.1C1910.6 1610.7 1912.6 1614.4 1915.2 1618.1C1917.8 1621.8 1920.9 1625.7 1923.8 1628.4C1926.7 1631.2 1929.2 1632.7 1932.4 1634.5C1935.6 1636.2 1938.7 1637.5 1942.7 1638.8C1946.7 1640 1949.9 1641.5 1956.5 1642.2C1963.1 1642.9 1978 1642.9 1982.3 1643.1" fill="none" stroke="#3bab34" stroke-width="4.6" stroke-linecap="round" stroke-linejoin="round"/>
<path d="M1921 1859.1C1923.4 1859 1930.3 1859 1935.6 1858.3C1940.9 1857.6 1947.1 1856.3 1952.8 1854.8C1958.5 1853.4 1964.3 1851.7 1970 1849.7C1975.7 1847.7 1982 1845.7 1987.2 1842.8C1992.4 1839.9 1996.9 1836.2 2001 1832.5C2005 1828.8 2007.8 1825.6 2011.3 1820.4C2014.7 1815.3 2018.4 1807.8 2021.6 1801.5C2024.8 1795.2 2027.3 1788.9 2030.2 1782.6C2033.1 1776.3 2035.9 1769.7 2038.8 1763.7C2041.7 1757.7 2044.5 1751.4 2047.4 1746.5C2050.3 1741.6 2053.1 1737.9 2056 1734.4C2058.9 1731 2061.7 1729.3 2064.6 1725.8C2067.5 1722.4 2070.3 1718.1 2073.2 1713.8C2076.1 1709.5 2078.9 1704.3 2081.8 1700C2084.7 1695.7 2087.2 1690.9 2090.4 1688C2093.6 1685.1 2097.9 1683.1 2100.7 1682.8C2103.6 1682.6 2105.3 1683.7 2107.6 1686.3C2109.9 1688.9 2112.2 1693.7 2114.5 1698.3C2116.8 1702.9 2119.1 1708.4 2121.4 1713.8C2123.7 1719.2 2125.9 1725.3 2128.2 1731C2130.5 1736.7 2132.8 1743.3 2135.1 1748.2C2137.4 1753.1 2139.1 1757.1 2142 1760.2C2144.9 1763.4 2149.2 1765.1 2152.3 1767.1C2155.5 1769.1 2158.1 1769.7 2160.9 1772.3C2163.8 1774.9 2166.7 1778.6 2169.5 1782.6C2172.4 1786.6 2175.3 1791.5 2178.1 1796.4C2181 1801.2 2183.9 1806.7 2186.7 1811.8C2189.6 1817 2192.5 1822.4 2195.3 1827.3C2198.2 1832.2 2201.1 1837.1 2203.9 1841.1C2206.8 1845.1 2209.7 1848.5 2212.5 1851.4C2215.4 1854.3 2218 1856.8 2221.1 1858.3C2224.3 1859.7 2227.6 1859.6 2231.4 1860C2235.2 1860.4 2241.9 1860.7 2244 1860.9" fill="none" stroke="#3bab34" stroke-width="4.6" stroke-linecap="round" stroke-linejoin="round"/>
<text transform="translate(48.4,151.5) rotate(-90)" font-size="64" fill="#e0302c">E1</text>
<text transform="translate(48.6,384.4) rotate(-90)" font-size="64" fill="#e0302c">E2</text>
<text transform="translate(48.6,621.3) rotate(-90)" font-size="64" fill="#e0302c">E3</text>
<text transform="translate(48.6,856.3) rotate(-90)" font-size="64" fill="#e0302c">E4</text>
<text transform="translate(46.6,1092.7) rotate(-90)" font-size="64" fill="#e0302c">E5</text>
<text transform="translate(46.8,1329.7) rotate(-90)" font-size="64" fill="#e0302c">E6</text>
<text transform="translate(46.8,1564.7) rotate(-90)" font-size="64" fill="#e0302c">E7</text>
<text transform="translate(47.9,1831.8) rotate(-90)" font-size="64" fill="#e0302c">ELUP</text>
<text x="71.2" y="54.9" font-size="64" fill="#e0302c">E1</text>
<text x="340.2" y="289.9" font-size="64" fill="#e0302c">E2</text>
<text x="609.8" y="525.7" font-size="64" fill="#e0302c">E3</text>
<text x="880.7" y="760.7" font-size="64" fill="#e0302c">E4</text>
<text x="1149.8" y="998.2" font-size="64" fill="#e0302c">E5</text>
<text x="1418.1" y="1232.4" font-size="64" fill="#e0302c">E6</text>
<text x="1685.5" y="1467.4" font-size="64" fill="#e0302c">E7</text>
<text transform="translate(1951,1705) scale(0.973,1)" font-size="64" fill="#e0302c">BLUP</text>
</svg>
</div>
</body></html>
